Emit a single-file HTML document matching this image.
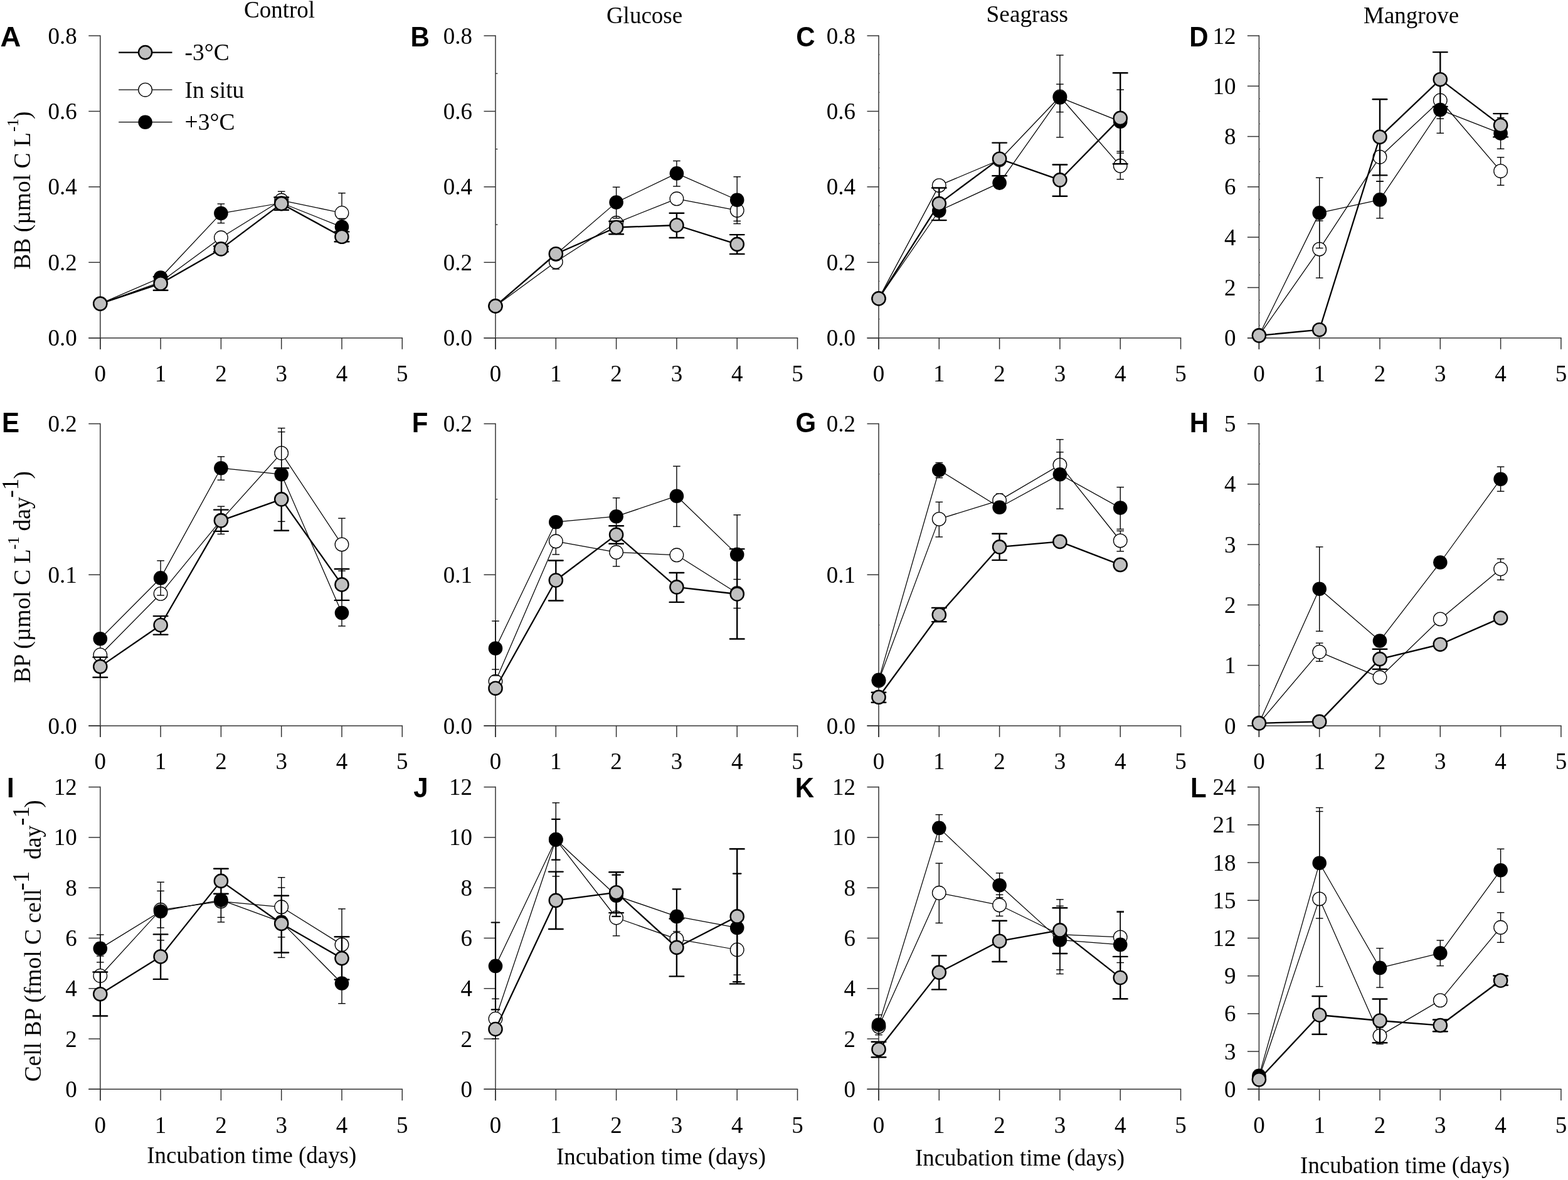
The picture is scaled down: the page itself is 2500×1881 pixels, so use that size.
<!DOCTYPE html>
<html><head><meta charset="utf-8"><title>Figure</title>
<style>html,body{margin:0;padding:0;background:#fff;}svg{display:block;}</style>
</head><body>
<svg width="2500" height="1881" viewBox="0 0 2500 1881">
<rect width="2500" height="1881" fill="#fff"/>
<line x1="159.8" y1="56.25" x2="159.8" y2="556.7" stroke="#333" stroke-width="1.5" stroke-linecap="butt"/>
<line x1="141.3" y1="538.7" x2="642" y2="538.7" stroke="#333" stroke-width="1.5" stroke-linecap="butt"/>
<line x1="141.3" y1="538.7" x2="159.8" y2="538.7" stroke="#333" stroke-width="1.5" stroke-linecap="butt"/>
<text x="122.8" y="551.3" font-size="37" text-anchor="end" font-family="'Liberation Serif','Times New Roman',serif" font-weight="normal">0.0</text>
<line x1="141.3" y1="418.28" x2="159.8" y2="418.28" stroke="#333" stroke-width="1.5" stroke-linecap="butt"/>
<text x="122.8" y="430.88" font-size="37" text-anchor="end" font-family="'Liberation Serif','Times New Roman',serif" font-weight="normal">0.2</text>
<line x1="141.3" y1="297.85" x2="159.8" y2="297.85" stroke="#333" stroke-width="1.5" stroke-linecap="butt"/>
<text x="122.8" y="310.45" font-size="37" text-anchor="end" font-family="'Liberation Serif','Times New Roman',serif" font-weight="normal">0.4</text>
<line x1="141.3" y1="177.43" x2="159.8" y2="177.43" stroke="#333" stroke-width="1.5" stroke-linecap="butt"/>
<text x="122.8" y="190.03" font-size="37" text-anchor="end" font-family="'Liberation Serif','Times New Roman',serif" font-weight="normal">0.6</text>
<line x1="141.3" y1="57" x2="159.8" y2="57" stroke="#333" stroke-width="1.5" stroke-linecap="butt"/>
<text x="122.8" y="69.6" font-size="37" text-anchor="end" font-family="'Liberation Serif','Times New Roman',serif" font-weight="normal">0.8</text>
<line x1="159.8" y1="538.7" x2="159.8" y2="556.7" stroke="#333" stroke-width="1.5" stroke-linecap="butt"/>
<text x="159.8" y="608.2" font-size="37" text-anchor="middle" font-family="'Liberation Serif','Times New Roman',serif" font-weight="normal">0</text>
<line x1="256.1" y1="538.7" x2="256.1" y2="556.7" stroke="#333" stroke-width="1.5" stroke-linecap="butt"/>
<text x="256.1" y="608.2" font-size="37" text-anchor="middle" font-family="'Liberation Serif','Times New Roman',serif" font-weight="normal">1</text>
<line x1="352.4" y1="538.7" x2="352.4" y2="556.7" stroke="#333" stroke-width="1.5" stroke-linecap="butt"/>
<text x="352.4" y="608.2" font-size="37" text-anchor="middle" font-family="'Liberation Serif','Times New Roman',serif" font-weight="normal">2</text>
<line x1="448.7" y1="538.7" x2="448.7" y2="556.7" stroke="#333" stroke-width="1.5" stroke-linecap="butt"/>
<text x="448.7" y="608.2" font-size="37" text-anchor="middle" font-family="'Liberation Serif','Times New Roman',serif" font-weight="normal">3</text>
<line x1="545" y1="538.7" x2="545" y2="556.7" stroke="#333" stroke-width="1.5" stroke-linecap="butt"/>
<text x="545" y="608.2" font-size="37" text-anchor="middle" font-family="'Liberation Serif','Times New Roman',serif" font-weight="normal">4</text>
<line x1="641.3" y1="538.7" x2="641.3" y2="556.7" stroke="#333" stroke-width="1.5" stroke-linecap="butt"/>
<text x="641.3" y="608.2" font-size="37" text-anchor="middle" font-family="'Liberation Serif','Times New Roman',serif" font-weight="normal">5</text>
<line x1="790" y1="56.25" x2="790" y2="556.7" stroke="#333" stroke-width="1.5" stroke-linecap="butt"/>
<line x1="771.5" y1="538.7" x2="1272.2" y2="538.7" stroke="#333" stroke-width="1.5" stroke-linecap="butt"/>
<line x1="771.5" y1="538.7" x2="790" y2="538.7" stroke="#333" stroke-width="1.5" stroke-linecap="butt"/>
<text x="753" y="551.3" font-size="37" text-anchor="end" font-family="'Liberation Serif','Times New Roman',serif" font-weight="normal">0.0</text>
<line x1="771.5" y1="418.28" x2="790" y2="418.28" stroke="#333" stroke-width="1.5" stroke-linecap="butt"/>
<text x="753" y="430.88" font-size="37" text-anchor="end" font-family="'Liberation Serif','Times New Roman',serif" font-weight="normal">0.2</text>
<line x1="771.5" y1="297.85" x2="790" y2="297.85" stroke="#333" stroke-width="1.5" stroke-linecap="butt"/>
<text x="753" y="310.45" font-size="37" text-anchor="end" font-family="'Liberation Serif','Times New Roman',serif" font-weight="normal">0.4</text>
<line x1="771.5" y1="177.43" x2="790" y2="177.43" stroke="#333" stroke-width="1.5" stroke-linecap="butt"/>
<text x="753" y="190.03" font-size="37" text-anchor="end" font-family="'Liberation Serif','Times New Roman',serif" font-weight="normal">0.6</text>
<line x1="771.5" y1="57" x2="790" y2="57" stroke="#333" stroke-width="1.5" stroke-linecap="butt"/>
<text x="753" y="69.6" font-size="37" text-anchor="end" font-family="'Liberation Serif','Times New Roman',serif" font-weight="normal">0.8</text>
<line x1="790" y1="478.49" x2="793.4" y2="478.49" stroke="#333" stroke-width="1.4" stroke-linecap="butt"/>
<line x1="790" y1="358.06" x2="793.4" y2="358.06" stroke="#333" stroke-width="1.4" stroke-linecap="butt"/>
<line x1="790" y1="237.64" x2="793.4" y2="237.64" stroke="#333" stroke-width="1.4" stroke-linecap="butt"/>
<line x1="790" y1="117.21" x2="793.4" y2="117.21" stroke="#333" stroke-width="1.4" stroke-linecap="butt"/>
<line x1="790" y1="538.7" x2="790" y2="556.7" stroke="#333" stroke-width="1.5" stroke-linecap="butt"/>
<text x="790" y="608.2" font-size="37" text-anchor="middle" font-family="'Liberation Serif','Times New Roman',serif" font-weight="normal">0</text>
<line x1="886.3" y1="538.7" x2="886.3" y2="556.7" stroke="#333" stroke-width="1.5" stroke-linecap="butt"/>
<text x="886.3" y="608.2" font-size="37" text-anchor="middle" font-family="'Liberation Serif','Times New Roman',serif" font-weight="normal">1</text>
<line x1="982.6" y1="538.7" x2="982.6" y2="556.7" stroke="#333" stroke-width="1.5" stroke-linecap="butt"/>
<text x="982.6" y="608.2" font-size="37" text-anchor="middle" font-family="'Liberation Serif','Times New Roman',serif" font-weight="normal">2</text>
<line x1="1078.9" y1="538.7" x2="1078.9" y2="556.7" stroke="#333" stroke-width="1.5" stroke-linecap="butt"/>
<text x="1078.9" y="608.2" font-size="37" text-anchor="middle" font-family="'Liberation Serif','Times New Roman',serif" font-weight="normal">3</text>
<line x1="1175.2" y1="538.7" x2="1175.2" y2="556.7" stroke="#333" stroke-width="1.5" stroke-linecap="butt"/>
<text x="1175.2" y="608.2" font-size="37" text-anchor="middle" font-family="'Liberation Serif','Times New Roman',serif" font-weight="normal">4</text>
<line x1="1271.5" y1="538.7" x2="1271.5" y2="556.7" stroke="#333" stroke-width="1.5" stroke-linecap="butt"/>
<text x="1271.5" y="608.2" font-size="37" text-anchor="middle" font-family="'Liberation Serif','Times New Roman',serif" font-weight="normal">5</text>
<line x1="1401" y1="56.25" x2="1401" y2="556.7" stroke="#333" stroke-width="1.5" stroke-linecap="butt"/>
<line x1="1382.5" y1="538.7" x2="1883.2" y2="538.7" stroke="#333" stroke-width="1.5" stroke-linecap="butt"/>
<line x1="1382.5" y1="538.7" x2="1401" y2="538.7" stroke="#333" stroke-width="1.5" stroke-linecap="butt"/>
<text x="1364" y="551.3" font-size="37" text-anchor="end" font-family="'Liberation Serif','Times New Roman',serif" font-weight="normal">0.0</text>
<line x1="1382.5" y1="418.28" x2="1401" y2="418.28" stroke="#333" stroke-width="1.5" stroke-linecap="butt"/>
<text x="1364" y="430.88" font-size="37" text-anchor="end" font-family="'Liberation Serif','Times New Roman',serif" font-weight="normal">0.2</text>
<line x1="1382.5" y1="297.85" x2="1401" y2="297.85" stroke="#333" stroke-width="1.5" stroke-linecap="butt"/>
<text x="1364" y="310.45" font-size="37" text-anchor="end" font-family="'Liberation Serif','Times New Roman',serif" font-weight="normal">0.4</text>
<line x1="1382.5" y1="177.43" x2="1401" y2="177.43" stroke="#333" stroke-width="1.5" stroke-linecap="butt"/>
<text x="1364" y="190.03" font-size="37" text-anchor="end" font-family="'Liberation Serif','Times New Roman',serif" font-weight="normal">0.6</text>
<line x1="1382.5" y1="57" x2="1401" y2="57" stroke="#333" stroke-width="1.5" stroke-linecap="butt"/>
<text x="1364" y="69.6" font-size="37" text-anchor="end" font-family="'Liberation Serif','Times New Roman',serif" font-weight="normal">0.8</text>
<line x1="1400.8" y1="508.59" x2="1402.6" y2="508.59" stroke="#555" stroke-width="1.2" stroke-linecap="butt"/>
<line x1="1400.8" y1="478.49" x2="1402.6" y2="478.49" stroke="#555" stroke-width="1.2" stroke-linecap="butt"/>
<line x1="1400.8" y1="448.38" x2="1402.6" y2="448.38" stroke="#555" stroke-width="1.2" stroke-linecap="butt"/>
<line x1="1400.8" y1="388.17" x2="1402.6" y2="388.17" stroke="#555" stroke-width="1.2" stroke-linecap="butt"/>
<line x1="1400.8" y1="358.06" x2="1402.6" y2="358.06" stroke="#555" stroke-width="1.2" stroke-linecap="butt"/>
<line x1="1400.8" y1="327.96" x2="1402.6" y2="327.96" stroke="#555" stroke-width="1.2" stroke-linecap="butt"/>
<line x1="1400.8" y1="267.74" x2="1402.6" y2="267.74" stroke="#555" stroke-width="1.2" stroke-linecap="butt"/>
<line x1="1400.8" y1="237.64" x2="1402.6" y2="237.64" stroke="#555" stroke-width="1.2" stroke-linecap="butt"/>
<line x1="1400.8" y1="207.53" x2="1402.6" y2="207.53" stroke="#555" stroke-width="1.2" stroke-linecap="butt"/>
<line x1="1400.8" y1="147.32" x2="1402.6" y2="147.32" stroke="#555" stroke-width="1.2" stroke-linecap="butt"/>
<line x1="1400.8" y1="117.21" x2="1402.6" y2="117.21" stroke="#555" stroke-width="1.2" stroke-linecap="butt"/>
<line x1="1400.8" y1="87.11" x2="1402.6" y2="87.11" stroke="#555" stroke-width="1.2" stroke-linecap="butt"/>
<line x1="1401" y1="538.7" x2="1401" y2="556.7" stroke="#333" stroke-width="1.5" stroke-linecap="butt"/>
<text x="1401" y="608.2" font-size="37" text-anchor="middle" font-family="'Liberation Serif','Times New Roman',serif" font-weight="normal">0</text>
<line x1="1497.3" y1="538.7" x2="1497.3" y2="556.7" stroke="#333" stroke-width="1.5" stroke-linecap="butt"/>
<text x="1497.3" y="608.2" font-size="37" text-anchor="middle" font-family="'Liberation Serif','Times New Roman',serif" font-weight="normal">1</text>
<line x1="1593.6" y1="538.7" x2="1593.6" y2="556.7" stroke="#333" stroke-width="1.5" stroke-linecap="butt"/>
<text x="1593.6" y="608.2" font-size="37" text-anchor="middle" font-family="'Liberation Serif','Times New Roman',serif" font-weight="normal">2</text>
<line x1="1689.9" y1="538.7" x2="1689.9" y2="556.7" stroke="#333" stroke-width="1.5" stroke-linecap="butt"/>
<text x="1689.9" y="608.2" font-size="37" text-anchor="middle" font-family="'Liberation Serif','Times New Roman',serif" font-weight="normal">3</text>
<line x1="1786.2" y1="538.7" x2="1786.2" y2="556.7" stroke="#333" stroke-width="1.5" stroke-linecap="butt"/>
<text x="1786.2" y="608.2" font-size="37" text-anchor="middle" font-family="'Liberation Serif','Times New Roman',serif" font-weight="normal">4</text>
<line x1="1882.5" y1="538.7" x2="1882.5" y2="556.7" stroke="#333" stroke-width="1.5" stroke-linecap="butt"/>
<text x="1882.5" y="608.2" font-size="37" text-anchor="middle" font-family="'Liberation Serif','Times New Roman',serif" font-weight="normal">5</text>
<line x1="2007.4" y1="56.25" x2="2007.4" y2="556.7" stroke="#333" stroke-width="1.5" stroke-linecap="butt"/>
<line x1="1988.9" y1="538.7" x2="2489.6" y2="538.7" stroke="#333" stroke-width="1.5" stroke-linecap="butt"/>
<line x1="1988.9" y1="538.7" x2="2007.4" y2="538.7" stroke="#333" stroke-width="1.5" stroke-linecap="butt"/>
<text x="1970.4" y="551.3" font-size="37" text-anchor="end" font-family="'Liberation Serif','Times New Roman',serif" font-weight="normal">0</text>
<line x1="1988.9" y1="458.42" x2="2007.4" y2="458.42" stroke="#333" stroke-width="1.5" stroke-linecap="butt"/>
<text x="1970.4" y="471.02" font-size="37" text-anchor="end" font-family="'Liberation Serif','Times New Roman',serif" font-weight="normal">2</text>
<line x1="1988.9" y1="378.13" x2="2007.4" y2="378.13" stroke="#333" stroke-width="1.5" stroke-linecap="butt"/>
<text x="1970.4" y="390.73" font-size="37" text-anchor="end" font-family="'Liberation Serif','Times New Roman',serif" font-weight="normal">4</text>
<line x1="1988.9" y1="297.85" x2="2007.4" y2="297.85" stroke="#333" stroke-width="1.5" stroke-linecap="butt"/>
<text x="1970.4" y="310.45" font-size="37" text-anchor="end" font-family="'Liberation Serif','Times New Roman',serif" font-weight="normal">6</text>
<line x1="1988.9" y1="217.57" x2="2007.4" y2="217.57" stroke="#333" stroke-width="1.5" stroke-linecap="butt"/>
<text x="1970.4" y="230.17" font-size="37" text-anchor="end" font-family="'Liberation Serif','Times New Roman',serif" font-weight="normal">8</text>
<line x1="1988.9" y1="137.28" x2="2007.4" y2="137.28" stroke="#333" stroke-width="1.5" stroke-linecap="butt"/>
<text x="1970.4" y="149.88" font-size="37" text-anchor="end" font-family="'Liberation Serif','Times New Roman',serif" font-weight="normal">10</text>
<line x1="1988.9" y1="57" x2="2007.4" y2="57" stroke="#333" stroke-width="1.5" stroke-linecap="butt"/>
<text x="1970.4" y="69.6" font-size="37" text-anchor="end" font-family="'Liberation Serif','Times New Roman',serif" font-weight="normal">12</text>
<line x1="2007.2" y1="518.63" x2="2009" y2="518.63" stroke="#555" stroke-width="1.2" stroke-linecap="butt"/>
<line x1="2007.2" y1="498.56" x2="2009" y2="498.56" stroke="#555" stroke-width="1.2" stroke-linecap="butt"/>
<line x1="2007.2" y1="478.49" x2="2009" y2="478.49" stroke="#555" stroke-width="1.2" stroke-linecap="butt"/>
<line x1="2007.2" y1="438.35" x2="2009" y2="438.35" stroke="#555" stroke-width="1.2" stroke-linecap="butt"/>
<line x1="2007.2" y1="418.28" x2="2009" y2="418.28" stroke="#555" stroke-width="1.2" stroke-linecap="butt"/>
<line x1="2007.2" y1="398.2" x2="2009" y2="398.2" stroke="#555" stroke-width="1.2" stroke-linecap="butt"/>
<line x1="2007.2" y1="358.06" x2="2009" y2="358.06" stroke="#555" stroke-width="1.2" stroke-linecap="butt"/>
<line x1="2007.2" y1="337.99" x2="2009" y2="337.99" stroke="#555" stroke-width="1.2" stroke-linecap="butt"/>
<line x1="2007.2" y1="317.92" x2="2009" y2="317.92" stroke="#555" stroke-width="1.2" stroke-linecap="butt"/>
<line x1="2007.2" y1="277.78" x2="2009" y2="277.78" stroke="#555" stroke-width="1.2" stroke-linecap="butt"/>
<line x1="2007.2" y1="257.71" x2="2009" y2="257.71" stroke="#555" stroke-width="1.2" stroke-linecap="butt"/>
<line x1="2007.2" y1="237.64" x2="2009" y2="237.64" stroke="#555" stroke-width="1.2" stroke-linecap="butt"/>
<line x1="2007.2" y1="197.5" x2="2009" y2="197.5" stroke="#555" stroke-width="1.2" stroke-linecap="butt"/>
<line x1="2007.2" y1="177.42" x2="2009" y2="177.42" stroke="#555" stroke-width="1.2" stroke-linecap="butt"/>
<line x1="2007.2" y1="157.35" x2="2009" y2="157.35" stroke="#555" stroke-width="1.2" stroke-linecap="butt"/>
<line x1="2007.2" y1="117.21" x2="2009" y2="117.21" stroke="#555" stroke-width="1.2" stroke-linecap="butt"/>
<line x1="2007.2" y1="97.14" x2="2009" y2="97.14" stroke="#555" stroke-width="1.2" stroke-linecap="butt"/>
<line x1="2007.2" y1="77.07" x2="2009" y2="77.07" stroke="#555" stroke-width="1.2" stroke-linecap="butt"/>
<line x1="2007.4" y1="538.7" x2="2007.4" y2="556.7" stroke="#333" stroke-width="1.5" stroke-linecap="butt"/>
<text x="2007.4" y="608.2" font-size="37" text-anchor="middle" font-family="'Liberation Serif','Times New Roman',serif" font-weight="normal">0</text>
<line x1="2103.7" y1="538.7" x2="2103.7" y2="556.7" stroke="#333" stroke-width="1.5" stroke-linecap="butt"/>
<text x="2103.7" y="608.2" font-size="37" text-anchor="middle" font-family="'Liberation Serif','Times New Roman',serif" font-weight="normal">1</text>
<line x1="2200" y1="538.7" x2="2200" y2="556.7" stroke="#333" stroke-width="1.5" stroke-linecap="butt"/>
<text x="2200" y="608.2" font-size="37" text-anchor="middle" font-family="'Liberation Serif','Times New Roman',serif" font-weight="normal">2</text>
<line x1="2296.3" y1="538.7" x2="2296.3" y2="556.7" stroke="#333" stroke-width="1.5" stroke-linecap="butt"/>
<text x="2296.3" y="608.2" font-size="37" text-anchor="middle" font-family="'Liberation Serif','Times New Roman',serif" font-weight="normal">3</text>
<line x1="2392.6" y1="538.7" x2="2392.6" y2="556.7" stroke="#333" stroke-width="1.5" stroke-linecap="butt"/>
<text x="2392.6" y="608.2" font-size="37" text-anchor="middle" font-family="'Liberation Serif','Times New Roman',serif" font-weight="normal">4</text>
<line x1="2488.9" y1="538.7" x2="2488.9" y2="556.7" stroke="#333" stroke-width="1.5" stroke-linecap="butt"/>
<text x="2488.9" y="608.2" font-size="37" text-anchor="middle" font-family="'Liberation Serif','Times New Roman',serif" font-weight="normal">5</text>
<line x1="159.8" y1="674.75" x2="159.8" y2="1174.9" stroke="#333" stroke-width="1.5" stroke-linecap="butt"/>
<line x1="141.3" y1="1156.9" x2="642" y2="1156.9" stroke="#333" stroke-width="1.5" stroke-linecap="butt"/>
<line x1="141.3" y1="1156.9" x2="159.8" y2="1156.9" stroke="#333" stroke-width="1.5" stroke-linecap="butt"/>
<text x="122.8" y="1169.5" font-size="37" text-anchor="end" font-family="'Liberation Serif','Times New Roman',serif" font-weight="normal">0.0</text>
<line x1="141.3" y1="916.2" x2="159.8" y2="916.2" stroke="#333" stroke-width="1.5" stroke-linecap="butt"/>
<text x="122.8" y="928.8" font-size="37" text-anchor="end" font-family="'Liberation Serif','Times New Roman',serif" font-weight="normal">0.1</text>
<line x1="141.3" y1="675.5" x2="159.8" y2="675.5" stroke="#333" stroke-width="1.5" stroke-linecap="butt"/>
<text x="122.8" y="688.1" font-size="37" text-anchor="end" font-family="'Liberation Serif','Times New Roman',serif" font-weight="normal">0.2</text>
<line x1="159.8" y1="1156.9" x2="159.8" y2="1174.9" stroke="#333" stroke-width="1.5" stroke-linecap="butt"/>
<text x="159.8" y="1226.4" font-size="37" text-anchor="middle" font-family="'Liberation Serif','Times New Roman',serif" font-weight="normal">0</text>
<line x1="256.1" y1="1156.9" x2="256.1" y2="1174.9" stroke="#333" stroke-width="1.5" stroke-linecap="butt"/>
<text x="256.1" y="1226.4" font-size="37" text-anchor="middle" font-family="'Liberation Serif','Times New Roman',serif" font-weight="normal">1</text>
<line x1="352.4" y1="1156.9" x2="352.4" y2="1174.9" stroke="#333" stroke-width="1.5" stroke-linecap="butt"/>
<text x="352.4" y="1226.4" font-size="37" text-anchor="middle" font-family="'Liberation Serif','Times New Roman',serif" font-weight="normal">2</text>
<line x1="448.7" y1="1156.9" x2="448.7" y2="1174.9" stroke="#333" stroke-width="1.5" stroke-linecap="butt"/>
<text x="448.7" y="1226.4" font-size="37" text-anchor="middle" font-family="'Liberation Serif','Times New Roman',serif" font-weight="normal">3</text>
<line x1="545" y1="1156.9" x2="545" y2="1174.9" stroke="#333" stroke-width="1.5" stroke-linecap="butt"/>
<text x="545" y="1226.4" font-size="37" text-anchor="middle" font-family="'Liberation Serif','Times New Roman',serif" font-weight="normal">4</text>
<line x1="641.3" y1="1156.9" x2="641.3" y2="1174.9" stroke="#333" stroke-width="1.5" stroke-linecap="butt"/>
<text x="641.3" y="1226.4" font-size="37" text-anchor="middle" font-family="'Liberation Serif','Times New Roman',serif" font-weight="normal">5</text>
<line x1="790" y1="674.75" x2="790" y2="1174.9" stroke="#333" stroke-width="1.5" stroke-linecap="butt"/>
<line x1="771.5" y1="1156.9" x2="1272.2" y2="1156.9" stroke="#333" stroke-width="1.5" stroke-linecap="butt"/>
<line x1="771.5" y1="1156.9" x2="790" y2="1156.9" stroke="#333" stroke-width="1.5" stroke-linecap="butt"/>
<text x="753" y="1169.5" font-size="37" text-anchor="end" font-family="'Liberation Serif','Times New Roman',serif" font-weight="normal">0.0</text>
<line x1="771.5" y1="916.2" x2="790" y2="916.2" stroke="#333" stroke-width="1.5" stroke-linecap="butt"/>
<text x="753" y="928.8" font-size="37" text-anchor="end" font-family="'Liberation Serif','Times New Roman',serif" font-weight="normal">0.1</text>
<line x1="771.5" y1="675.5" x2="790" y2="675.5" stroke="#333" stroke-width="1.5" stroke-linecap="butt"/>
<text x="753" y="688.1" font-size="37" text-anchor="end" font-family="'Liberation Serif','Times New Roman',serif" font-weight="normal">0.2</text>
<line x1="790" y1="1036.55" x2="793.4" y2="1036.55" stroke="#333" stroke-width="1.4" stroke-linecap="butt"/>
<line x1="790" y1="795.85" x2="793.4" y2="795.85" stroke="#333" stroke-width="1.4" stroke-linecap="butt"/>
<line x1="790" y1="1156.9" x2="790" y2="1174.9" stroke="#333" stroke-width="1.5" stroke-linecap="butt"/>
<text x="790" y="1226.4" font-size="37" text-anchor="middle" font-family="'Liberation Serif','Times New Roman',serif" font-weight="normal">0</text>
<line x1="886.3" y1="1156.9" x2="886.3" y2="1174.9" stroke="#333" stroke-width="1.5" stroke-linecap="butt"/>
<text x="886.3" y="1226.4" font-size="37" text-anchor="middle" font-family="'Liberation Serif','Times New Roman',serif" font-weight="normal">1</text>
<line x1="982.6" y1="1156.9" x2="982.6" y2="1174.9" stroke="#333" stroke-width="1.5" stroke-linecap="butt"/>
<text x="982.6" y="1226.4" font-size="37" text-anchor="middle" font-family="'Liberation Serif','Times New Roman',serif" font-weight="normal">2</text>
<line x1="1078.9" y1="1156.9" x2="1078.9" y2="1174.9" stroke="#333" stroke-width="1.5" stroke-linecap="butt"/>
<text x="1078.9" y="1226.4" font-size="37" text-anchor="middle" font-family="'Liberation Serif','Times New Roman',serif" font-weight="normal">3</text>
<line x1="1175.2" y1="1156.9" x2="1175.2" y2="1174.9" stroke="#333" stroke-width="1.5" stroke-linecap="butt"/>
<text x="1175.2" y="1226.4" font-size="37" text-anchor="middle" font-family="'Liberation Serif','Times New Roman',serif" font-weight="normal">4</text>
<line x1="1271.5" y1="1156.9" x2="1271.5" y2="1174.9" stroke="#333" stroke-width="1.5" stroke-linecap="butt"/>
<text x="1271.5" y="1226.4" font-size="37" text-anchor="middle" font-family="'Liberation Serif','Times New Roman',serif" font-weight="normal">5</text>
<line x1="1401" y1="674.75" x2="1401" y2="1174.9" stroke="#333" stroke-width="1.5" stroke-linecap="butt"/>
<line x1="1382.5" y1="1156.9" x2="1883.2" y2="1156.9" stroke="#333" stroke-width="1.5" stroke-linecap="butt"/>
<line x1="1382.5" y1="1156.9" x2="1401" y2="1156.9" stroke="#333" stroke-width="1.5" stroke-linecap="butt"/>
<text x="1364" y="1169.5" font-size="37" text-anchor="end" font-family="'Liberation Serif','Times New Roman',serif" font-weight="normal">0.0</text>
<line x1="1382.5" y1="916.2" x2="1401" y2="916.2" stroke="#333" stroke-width="1.5" stroke-linecap="butt"/>
<text x="1364" y="928.8" font-size="37" text-anchor="end" font-family="'Liberation Serif','Times New Roman',serif" font-weight="normal">0.1</text>
<line x1="1382.5" y1="675.5" x2="1401" y2="675.5" stroke="#333" stroke-width="1.5" stroke-linecap="butt"/>
<text x="1364" y="688.1" font-size="37" text-anchor="end" font-family="'Liberation Serif','Times New Roman',serif" font-weight="normal">0.2</text>
<line x1="1400.8" y1="1076.67" x2="1402.6" y2="1076.67" stroke="#555" stroke-width="1.2" stroke-linecap="butt"/>
<line x1="1400.8" y1="996.43" x2="1402.6" y2="996.43" stroke="#555" stroke-width="1.2" stroke-linecap="butt"/>
<line x1="1400.8" y1="835.97" x2="1402.6" y2="835.97" stroke="#555" stroke-width="1.2" stroke-linecap="butt"/>
<line x1="1400.8" y1="755.73" x2="1402.6" y2="755.73" stroke="#555" stroke-width="1.2" stroke-linecap="butt"/>
<line x1="1401" y1="1156.9" x2="1401" y2="1174.9" stroke="#333" stroke-width="1.5" stroke-linecap="butt"/>
<text x="1401" y="1226.4" font-size="37" text-anchor="middle" font-family="'Liberation Serif','Times New Roman',serif" font-weight="normal">0</text>
<line x1="1497.3" y1="1156.9" x2="1497.3" y2="1174.9" stroke="#333" stroke-width="1.5" stroke-linecap="butt"/>
<text x="1497.3" y="1226.4" font-size="37" text-anchor="middle" font-family="'Liberation Serif','Times New Roman',serif" font-weight="normal">1</text>
<line x1="1593.6" y1="1156.9" x2="1593.6" y2="1174.9" stroke="#333" stroke-width="1.5" stroke-linecap="butt"/>
<text x="1593.6" y="1226.4" font-size="37" text-anchor="middle" font-family="'Liberation Serif','Times New Roman',serif" font-weight="normal">2</text>
<line x1="1689.9" y1="1156.9" x2="1689.9" y2="1174.9" stroke="#333" stroke-width="1.5" stroke-linecap="butt"/>
<text x="1689.9" y="1226.4" font-size="37" text-anchor="middle" font-family="'Liberation Serif','Times New Roman',serif" font-weight="normal">3</text>
<line x1="1786.2" y1="1156.9" x2="1786.2" y2="1174.9" stroke="#333" stroke-width="1.5" stroke-linecap="butt"/>
<text x="1786.2" y="1226.4" font-size="37" text-anchor="middle" font-family="'Liberation Serif','Times New Roman',serif" font-weight="normal">4</text>
<line x1="1882.5" y1="1156.9" x2="1882.5" y2="1174.9" stroke="#333" stroke-width="1.5" stroke-linecap="butt"/>
<text x="1882.5" y="1226.4" font-size="37" text-anchor="middle" font-family="'Liberation Serif','Times New Roman',serif" font-weight="normal">5</text>
<line x1="2007.4" y1="674.75" x2="2007.4" y2="1174.9" stroke="#333" stroke-width="1.5" stroke-linecap="butt"/>
<line x1="1988.9" y1="1156.9" x2="2489.6" y2="1156.9" stroke="#333" stroke-width="1.5" stroke-linecap="butt"/>
<line x1="1988.9" y1="1156.9" x2="2007.4" y2="1156.9" stroke="#333" stroke-width="1.5" stroke-linecap="butt"/>
<text x="1970.4" y="1169.5" font-size="37" text-anchor="end" font-family="'Liberation Serif','Times New Roman',serif" font-weight="normal">0</text>
<line x1="1988.9" y1="1060.62" x2="2007.4" y2="1060.62" stroke="#333" stroke-width="1.5" stroke-linecap="butt"/>
<text x="1970.4" y="1073.22" font-size="37" text-anchor="end" font-family="'Liberation Serif','Times New Roman',serif" font-weight="normal">1</text>
<line x1="1988.9" y1="964.34" x2="2007.4" y2="964.34" stroke="#333" stroke-width="1.5" stroke-linecap="butt"/>
<text x="1970.4" y="976.94" font-size="37" text-anchor="end" font-family="'Liberation Serif','Times New Roman',serif" font-weight="normal">2</text>
<line x1="1988.9" y1="868.06" x2="2007.4" y2="868.06" stroke="#333" stroke-width="1.5" stroke-linecap="butt"/>
<text x="1970.4" y="880.66" font-size="37" text-anchor="end" font-family="'Liberation Serif','Times New Roman',serif" font-weight="normal">3</text>
<line x1="1988.9" y1="771.78" x2="2007.4" y2="771.78" stroke="#333" stroke-width="1.5" stroke-linecap="butt"/>
<text x="1970.4" y="784.38" font-size="37" text-anchor="end" font-family="'Liberation Serif','Times New Roman',serif" font-weight="normal">4</text>
<line x1="1988.9" y1="675.5" x2="2007.4" y2="675.5" stroke="#333" stroke-width="1.5" stroke-linecap="butt"/>
<text x="1970.4" y="688.1" font-size="37" text-anchor="end" font-family="'Liberation Serif','Times New Roman',serif" font-weight="normal">5</text>
<line x1="2007.2" y1="1124.81" x2="2009" y2="1124.81" stroke="#555" stroke-width="1.2" stroke-linecap="butt"/>
<line x1="2007.2" y1="1092.71" x2="2009" y2="1092.71" stroke="#555" stroke-width="1.2" stroke-linecap="butt"/>
<line x1="2007.2" y1="1028.53" x2="2009" y2="1028.53" stroke="#555" stroke-width="1.2" stroke-linecap="butt"/>
<line x1="2007.2" y1="996.43" x2="2009" y2="996.43" stroke="#555" stroke-width="1.2" stroke-linecap="butt"/>
<line x1="2007.2" y1="932.25" x2="2009" y2="932.25" stroke="#555" stroke-width="1.2" stroke-linecap="butt"/>
<line x1="2007.2" y1="900.15" x2="2009" y2="900.15" stroke="#555" stroke-width="1.2" stroke-linecap="butt"/>
<line x1="2007.2" y1="835.97" x2="2009" y2="835.97" stroke="#555" stroke-width="1.2" stroke-linecap="butt"/>
<line x1="2007.2" y1="803.87" x2="2009" y2="803.87" stroke="#555" stroke-width="1.2" stroke-linecap="butt"/>
<line x1="2007.2" y1="739.69" x2="2009" y2="739.69" stroke="#555" stroke-width="1.2" stroke-linecap="butt"/>
<line x1="2007.2" y1="707.59" x2="2009" y2="707.59" stroke="#555" stroke-width="1.2" stroke-linecap="butt"/>
<line x1="2007.4" y1="1156.9" x2="2007.4" y2="1174.9" stroke="#333" stroke-width="1.5" stroke-linecap="butt"/>
<text x="2007.4" y="1226.4" font-size="37" text-anchor="middle" font-family="'Liberation Serif','Times New Roman',serif" font-weight="normal">0</text>
<line x1="2103.7" y1="1156.9" x2="2103.7" y2="1174.9" stroke="#333" stroke-width="1.5" stroke-linecap="butt"/>
<text x="2103.7" y="1226.4" font-size="37" text-anchor="middle" font-family="'Liberation Serif','Times New Roman',serif" font-weight="normal">1</text>
<line x1="2200" y1="1156.9" x2="2200" y2="1174.9" stroke="#333" stroke-width="1.5" stroke-linecap="butt"/>
<text x="2200" y="1226.4" font-size="37" text-anchor="middle" font-family="'Liberation Serif','Times New Roman',serif" font-weight="normal">2</text>
<line x1="2296.3" y1="1156.9" x2="2296.3" y2="1174.9" stroke="#333" stroke-width="1.5" stroke-linecap="butt"/>
<text x="2296.3" y="1226.4" font-size="37" text-anchor="middle" font-family="'Liberation Serif','Times New Roman',serif" font-weight="normal">3</text>
<line x1="2392.6" y1="1156.9" x2="2392.6" y2="1174.9" stroke="#333" stroke-width="1.5" stroke-linecap="butt"/>
<text x="2392.6" y="1226.4" font-size="37" text-anchor="middle" font-family="'Liberation Serif','Times New Roman',serif" font-weight="normal">4</text>
<line x1="2488.9" y1="1156.9" x2="2488.9" y2="1174.9" stroke="#333" stroke-width="1.5" stroke-linecap="butt"/>
<text x="2488.9" y="1226.4" font-size="37" text-anchor="middle" font-family="'Liberation Serif','Times New Roman',serif" font-weight="normal">5</text>
<line x1="159.8" y1="1253.85" x2="159.8" y2="1754.3" stroke="#333" stroke-width="1.5" stroke-linecap="butt"/>
<line x1="141.3" y1="1736.3" x2="642" y2="1736.3" stroke="#333" stroke-width="1.5" stroke-linecap="butt"/>
<line x1="141.3" y1="1736.3" x2="159.8" y2="1736.3" stroke="#333" stroke-width="1.5" stroke-linecap="butt"/>
<text x="122.8" y="1748.9" font-size="37" text-anchor="end" font-family="'Liberation Serif','Times New Roman',serif" font-weight="normal">0</text>
<line x1="141.3" y1="1656.02" x2="159.8" y2="1656.02" stroke="#333" stroke-width="1.5" stroke-linecap="butt"/>
<text x="122.8" y="1668.62" font-size="37" text-anchor="end" font-family="'Liberation Serif','Times New Roman',serif" font-weight="normal">2</text>
<line x1="141.3" y1="1575.73" x2="159.8" y2="1575.73" stroke="#333" stroke-width="1.5" stroke-linecap="butt"/>
<text x="122.8" y="1588.33" font-size="37" text-anchor="end" font-family="'Liberation Serif','Times New Roman',serif" font-weight="normal">4</text>
<line x1="141.3" y1="1495.45" x2="159.8" y2="1495.45" stroke="#333" stroke-width="1.5" stroke-linecap="butt"/>
<text x="122.8" y="1508.05" font-size="37" text-anchor="end" font-family="'Liberation Serif','Times New Roman',serif" font-weight="normal">6</text>
<line x1="141.3" y1="1415.17" x2="159.8" y2="1415.17" stroke="#333" stroke-width="1.5" stroke-linecap="butt"/>
<text x="122.8" y="1427.77" font-size="37" text-anchor="end" font-family="'Liberation Serif','Times New Roman',serif" font-weight="normal">8</text>
<line x1="141.3" y1="1334.88" x2="159.8" y2="1334.88" stroke="#333" stroke-width="1.5" stroke-linecap="butt"/>
<text x="122.8" y="1347.48" font-size="37" text-anchor="end" font-family="'Liberation Serif','Times New Roman',serif" font-weight="normal">10</text>
<line x1="141.3" y1="1254.6" x2="159.8" y2="1254.6" stroke="#333" stroke-width="1.5" stroke-linecap="butt"/>
<text x="122.8" y="1267.2" font-size="37" text-anchor="end" font-family="'Liberation Serif','Times New Roman',serif" font-weight="normal">12</text>
<line x1="159.8" y1="1736.3" x2="159.8" y2="1754.3" stroke="#333" stroke-width="1.5" stroke-linecap="butt"/>
<text x="159.8" y="1805.8" font-size="37" text-anchor="middle" font-family="'Liberation Serif','Times New Roman',serif" font-weight="normal">0</text>
<line x1="256.1" y1="1736.3" x2="256.1" y2="1754.3" stroke="#333" stroke-width="1.5" stroke-linecap="butt"/>
<text x="256.1" y="1805.8" font-size="37" text-anchor="middle" font-family="'Liberation Serif','Times New Roman',serif" font-weight="normal">1</text>
<line x1="352.4" y1="1736.3" x2="352.4" y2="1754.3" stroke="#333" stroke-width="1.5" stroke-linecap="butt"/>
<text x="352.4" y="1805.8" font-size="37" text-anchor="middle" font-family="'Liberation Serif','Times New Roman',serif" font-weight="normal">2</text>
<line x1="448.7" y1="1736.3" x2="448.7" y2="1754.3" stroke="#333" stroke-width="1.5" stroke-linecap="butt"/>
<text x="448.7" y="1805.8" font-size="37" text-anchor="middle" font-family="'Liberation Serif','Times New Roman',serif" font-weight="normal">3</text>
<line x1="545" y1="1736.3" x2="545" y2="1754.3" stroke="#333" stroke-width="1.5" stroke-linecap="butt"/>
<text x="545" y="1805.8" font-size="37" text-anchor="middle" font-family="'Liberation Serif','Times New Roman',serif" font-weight="normal">4</text>
<line x1="641.3" y1="1736.3" x2="641.3" y2="1754.3" stroke="#333" stroke-width="1.5" stroke-linecap="butt"/>
<text x="641.3" y="1805.8" font-size="37" text-anchor="middle" font-family="'Liberation Serif','Times New Roman',serif" font-weight="normal">5</text>
<line x1="790" y1="1253.85" x2="790" y2="1754.3" stroke="#333" stroke-width="1.5" stroke-linecap="butt"/>
<line x1="771.5" y1="1736.3" x2="1272.2" y2="1736.3" stroke="#333" stroke-width="1.5" stroke-linecap="butt"/>
<line x1="771.5" y1="1736.3" x2="790" y2="1736.3" stroke="#333" stroke-width="1.5" stroke-linecap="butt"/>
<text x="753" y="1748.9" font-size="37" text-anchor="end" font-family="'Liberation Serif','Times New Roman',serif" font-weight="normal">0</text>
<line x1="771.5" y1="1656.02" x2="790" y2="1656.02" stroke="#333" stroke-width="1.5" stroke-linecap="butt"/>
<text x="753" y="1668.62" font-size="37" text-anchor="end" font-family="'Liberation Serif','Times New Roman',serif" font-weight="normal">2</text>
<line x1="771.5" y1="1575.73" x2="790" y2="1575.73" stroke="#333" stroke-width="1.5" stroke-linecap="butt"/>
<text x="753" y="1588.33" font-size="37" text-anchor="end" font-family="'Liberation Serif','Times New Roman',serif" font-weight="normal">4</text>
<line x1="771.5" y1="1495.45" x2="790" y2="1495.45" stroke="#333" stroke-width="1.5" stroke-linecap="butt"/>
<text x="753" y="1508.05" font-size="37" text-anchor="end" font-family="'Liberation Serif','Times New Roman',serif" font-weight="normal">6</text>
<line x1="771.5" y1="1415.17" x2="790" y2="1415.17" stroke="#333" stroke-width="1.5" stroke-linecap="butt"/>
<text x="753" y="1427.77" font-size="37" text-anchor="end" font-family="'Liberation Serif','Times New Roman',serif" font-weight="normal">8</text>
<line x1="771.5" y1="1334.88" x2="790" y2="1334.88" stroke="#333" stroke-width="1.5" stroke-linecap="butt"/>
<text x="753" y="1347.48" font-size="37" text-anchor="end" font-family="'Liberation Serif','Times New Roman',serif" font-weight="normal">10</text>
<line x1="771.5" y1="1254.6" x2="790" y2="1254.6" stroke="#333" stroke-width="1.5" stroke-linecap="butt"/>
<text x="753" y="1267.2" font-size="37" text-anchor="end" font-family="'Liberation Serif','Times New Roman',serif" font-weight="normal">12</text>
<line x1="790" y1="1736.3" x2="790" y2="1754.3" stroke="#333" stroke-width="1.5" stroke-linecap="butt"/>
<text x="790" y="1805.8" font-size="37" text-anchor="middle" font-family="'Liberation Serif','Times New Roman',serif" font-weight="normal">0</text>
<line x1="886.3" y1="1736.3" x2="886.3" y2="1754.3" stroke="#333" stroke-width="1.5" stroke-linecap="butt"/>
<text x="886.3" y="1805.8" font-size="37" text-anchor="middle" font-family="'Liberation Serif','Times New Roman',serif" font-weight="normal">1</text>
<line x1="982.6" y1="1736.3" x2="982.6" y2="1754.3" stroke="#333" stroke-width="1.5" stroke-linecap="butt"/>
<text x="982.6" y="1805.8" font-size="37" text-anchor="middle" font-family="'Liberation Serif','Times New Roman',serif" font-weight="normal">2</text>
<line x1="1078.9" y1="1736.3" x2="1078.9" y2="1754.3" stroke="#333" stroke-width="1.5" stroke-linecap="butt"/>
<text x="1078.9" y="1805.8" font-size="37" text-anchor="middle" font-family="'Liberation Serif','Times New Roman',serif" font-weight="normal">3</text>
<line x1="1175.2" y1="1736.3" x2="1175.2" y2="1754.3" stroke="#333" stroke-width="1.5" stroke-linecap="butt"/>
<text x="1175.2" y="1805.8" font-size="37" text-anchor="middle" font-family="'Liberation Serif','Times New Roman',serif" font-weight="normal">4</text>
<line x1="1271.5" y1="1736.3" x2="1271.5" y2="1754.3" stroke="#333" stroke-width="1.5" stroke-linecap="butt"/>
<text x="1271.5" y="1805.8" font-size="37" text-anchor="middle" font-family="'Liberation Serif','Times New Roman',serif" font-weight="normal">5</text>
<line x1="1401" y1="1253.85" x2="1401" y2="1754.3" stroke="#333" stroke-width="1.5" stroke-linecap="butt"/>
<line x1="1382.5" y1="1736.3" x2="1883.2" y2="1736.3" stroke="#333" stroke-width="1.5" stroke-linecap="butt"/>
<line x1="1382.5" y1="1736.3" x2="1401" y2="1736.3" stroke="#333" stroke-width="1.5" stroke-linecap="butt"/>
<text x="1364" y="1748.9" font-size="37" text-anchor="end" font-family="'Liberation Serif','Times New Roman',serif" font-weight="normal">0</text>
<line x1="1382.5" y1="1656.02" x2="1401" y2="1656.02" stroke="#333" stroke-width="1.5" stroke-linecap="butt"/>
<text x="1364" y="1668.62" font-size="37" text-anchor="end" font-family="'Liberation Serif','Times New Roman',serif" font-weight="normal">2</text>
<line x1="1382.5" y1="1575.73" x2="1401" y2="1575.73" stroke="#333" stroke-width="1.5" stroke-linecap="butt"/>
<text x="1364" y="1588.33" font-size="37" text-anchor="end" font-family="'Liberation Serif','Times New Roman',serif" font-weight="normal">4</text>
<line x1="1382.5" y1="1495.45" x2="1401" y2="1495.45" stroke="#333" stroke-width="1.5" stroke-linecap="butt"/>
<text x="1364" y="1508.05" font-size="37" text-anchor="end" font-family="'Liberation Serif','Times New Roman',serif" font-weight="normal">6</text>
<line x1="1382.5" y1="1415.17" x2="1401" y2="1415.17" stroke="#333" stroke-width="1.5" stroke-linecap="butt"/>
<text x="1364" y="1427.77" font-size="37" text-anchor="end" font-family="'Liberation Serif','Times New Roman',serif" font-weight="normal">8</text>
<line x1="1382.5" y1="1334.88" x2="1401" y2="1334.88" stroke="#333" stroke-width="1.5" stroke-linecap="butt"/>
<text x="1364" y="1347.48" font-size="37" text-anchor="end" font-family="'Liberation Serif','Times New Roman',serif" font-weight="normal">10</text>
<line x1="1382.5" y1="1254.6" x2="1401" y2="1254.6" stroke="#333" stroke-width="1.5" stroke-linecap="butt"/>
<text x="1364" y="1267.2" font-size="37" text-anchor="end" font-family="'Liberation Serif','Times New Roman',serif" font-weight="normal">12</text>
<line x1="1401" y1="1736.3" x2="1401" y2="1754.3" stroke="#333" stroke-width="1.5" stroke-linecap="butt"/>
<text x="1401" y="1805.8" font-size="37" text-anchor="middle" font-family="'Liberation Serif','Times New Roman',serif" font-weight="normal">0</text>
<line x1="1497.3" y1="1736.3" x2="1497.3" y2="1754.3" stroke="#333" stroke-width="1.5" stroke-linecap="butt"/>
<text x="1497.3" y="1805.8" font-size="37" text-anchor="middle" font-family="'Liberation Serif','Times New Roman',serif" font-weight="normal">1</text>
<line x1="1593.6" y1="1736.3" x2="1593.6" y2="1754.3" stroke="#333" stroke-width="1.5" stroke-linecap="butt"/>
<text x="1593.6" y="1805.8" font-size="37" text-anchor="middle" font-family="'Liberation Serif','Times New Roman',serif" font-weight="normal">2</text>
<line x1="1689.9" y1="1736.3" x2="1689.9" y2="1754.3" stroke="#333" stroke-width="1.5" stroke-linecap="butt"/>
<text x="1689.9" y="1805.8" font-size="37" text-anchor="middle" font-family="'Liberation Serif','Times New Roman',serif" font-weight="normal">3</text>
<line x1="1786.2" y1="1736.3" x2="1786.2" y2="1754.3" stroke="#333" stroke-width="1.5" stroke-linecap="butt"/>
<text x="1786.2" y="1805.8" font-size="37" text-anchor="middle" font-family="'Liberation Serif','Times New Roman',serif" font-weight="normal">4</text>
<line x1="1882.5" y1="1736.3" x2="1882.5" y2="1754.3" stroke="#333" stroke-width="1.5" stroke-linecap="butt"/>
<text x="1882.5" y="1805.8" font-size="37" text-anchor="middle" font-family="'Liberation Serif','Times New Roman',serif" font-weight="normal">5</text>
<line x1="2007.4" y1="1253.85" x2="2007.4" y2="1754.3" stroke="#333" stroke-width="1.5" stroke-linecap="butt"/>
<line x1="1988.9" y1="1736.3" x2="2489.6" y2="1736.3" stroke="#333" stroke-width="1.5" stroke-linecap="butt"/>
<line x1="1988.9" y1="1736.3" x2="2007.4" y2="1736.3" stroke="#333" stroke-width="1.5" stroke-linecap="butt"/>
<text x="1970.4" y="1748.9" font-size="37" text-anchor="end" font-family="'Liberation Serif','Times New Roman',serif" font-weight="normal">0</text>
<line x1="1988.9" y1="1676.09" x2="2007.4" y2="1676.09" stroke="#333" stroke-width="1.5" stroke-linecap="butt"/>
<text x="1970.4" y="1688.69" font-size="37" text-anchor="end" font-family="'Liberation Serif','Times New Roman',serif" font-weight="normal">3</text>
<line x1="1988.9" y1="1615.88" x2="2007.4" y2="1615.88" stroke="#333" stroke-width="1.5" stroke-linecap="butt"/>
<text x="1970.4" y="1628.47" font-size="37" text-anchor="end" font-family="'Liberation Serif','Times New Roman',serif" font-weight="normal">6</text>
<line x1="1988.9" y1="1555.66" x2="2007.4" y2="1555.66" stroke="#333" stroke-width="1.5" stroke-linecap="butt"/>
<text x="1970.4" y="1568.26" font-size="37" text-anchor="end" font-family="'Liberation Serif','Times New Roman',serif" font-weight="normal">9</text>
<line x1="1988.9" y1="1495.45" x2="2007.4" y2="1495.45" stroke="#333" stroke-width="1.5" stroke-linecap="butt"/>
<text x="1970.4" y="1508.05" font-size="37" text-anchor="end" font-family="'Liberation Serif','Times New Roman',serif" font-weight="normal">12</text>
<line x1="1988.9" y1="1435.24" x2="2007.4" y2="1435.24" stroke="#333" stroke-width="1.5" stroke-linecap="butt"/>
<text x="1970.4" y="1447.84" font-size="37" text-anchor="end" font-family="'Liberation Serif','Times New Roman',serif" font-weight="normal">15</text>
<line x1="1988.9" y1="1375.02" x2="2007.4" y2="1375.02" stroke="#333" stroke-width="1.5" stroke-linecap="butt"/>
<text x="1970.4" y="1387.62" font-size="37" text-anchor="end" font-family="'Liberation Serif','Times New Roman',serif" font-weight="normal">18</text>
<line x1="1988.9" y1="1314.81" x2="2007.4" y2="1314.81" stroke="#333" stroke-width="1.5" stroke-linecap="butt"/>
<text x="1970.4" y="1327.41" font-size="37" text-anchor="end" font-family="'Liberation Serif','Times New Roman',serif" font-weight="normal">21</text>
<line x1="1988.9" y1="1254.6" x2="2007.4" y2="1254.6" stroke="#333" stroke-width="1.5" stroke-linecap="butt"/>
<text x="1970.4" y="1267.2" font-size="37" text-anchor="end" font-family="'Liberation Serif','Times New Roman',serif" font-weight="normal">24</text>
<line x1="2007.4" y1="1736.3" x2="2007.4" y2="1754.3" stroke="#333" stroke-width="1.5" stroke-linecap="butt"/>
<text x="2007.4" y="1805.8" font-size="37" text-anchor="middle" font-family="'Liberation Serif','Times New Roman',serif" font-weight="normal">0</text>
<line x1="2103.7" y1="1736.3" x2="2103.7" y2="1754.3" stroke="#333" stroke-width="1.5" stroke-linecap="butt"/>
<text x="2103.7" y="1805.8" font-size="37" text-anchor="middle" font-family="'Liberation Serif','Times New Roman',serif" font-weight="normal">1</text>
<line x1="2200" y1="1736.3" x2="2200" y2="1754.3" stroke="#333" stroke-width="1.5" stroke-linecap="butt"/>
<text x="2200" y="1805.8" font-size="37" text-anchor="middle" font-family="'Liberation Serif','Times New Roman',serif" font-weight="normal">2</text>
<line x1="2296.3" y1="1736.3" x2="2296.3" y2="1754.3" stroke="#333" stroke-width="1.5" stroke-linecap="butt"/>
<text x="2296.3" y="1805.8" font-size="37" text-anchor="middle" font-family="'Liberation Serif','Times New Roman',serif" font-weight="normal">3</text>
<line x1="2392.6" y1="1736.3" x2="2392.6" y2="1754.3" stroke="#333" stroke-width="1.5" stroke-linecap="butt"/>
<text x="2392.6" y="1805.8" font-size="37" text-anchor="middle" font-family="'Liberation Serif','Times New Roman',serif" font-weight="normal">4</text>
<line x1="2488.9" y1="1736.3" x2="2488.9" y2="1754.3" stroke="#333" stroke-width="1.5" stroke-linecap="butt"/>
<text x="2488.9" y="1805.8" font-size="37" text-anchor="middle" font-family="'Liberation Serif','Times New Roman',serif" font-weight="normal">5</text>
<path d="M159.8 484.1 L256.1 449.5 L352.4 378.8 L448.7 319.3 L545 339.5" fill="none" stroke="#000" stroke-width="1.25" stroke-linejoin="round"/>
<line x1="256.1" y1="449.5" x2="256.1" y2="443" stroke="#000" stroke-width="1.4" stroke-linecap="butt"/>
<line x1="250.3" y1="443" x2="261.9" y2="443" stroke="#000" stroke-width="1.4" stroke-linecap="butt"/>
<line x1="256.1" y1="449.5" x2="256.1" y2="456" stroke="#000" stroke-width="1.4" stroke-linecap="butt"/>
<line x1="250.3" y1="456" x2="261.9" y2="456" stroke="#000" stroke-width="1.4" stroke-linecap="butt"/>
<line x1="448.7" y1="319.3" x2="448.7" y2="305.2" stroke="#000" stroke-width="1.4" stroke-linecap="butt"/>
<line x1="442.9" y1="305.2" x2="454.5" y2="305.2" stroke="#000" stroke-width="1.4" stroke-linecap="butt"/>
<line x1="448.7" y1="319.3" x2="448.7" y2="333.4" stroke="#000" stroke-width="1.4" stroke-linecap="butt"/>
<line x1="442.9" y1="333.4" x2="454.5" y2="333.4" stroke="#000" stroke-width="1.4" stroke-linecap="butt"/>
<line x1="545" y1="339.5" x2="545" y2="307.8" stroke="#000" stroke-width="1.4" stroke-linecap="butt"/>
<line x1="539.2" y1="307.8" x2="550.8" y2="307.8" stroke="#000" stroke-width="1.4" stroke-linecap="butt"/>
<line x1="545" y1="339.5" x2="545" y2="371.2" stroke="#000" stroke-width="1.4" stroke-linecap="butt"/>
<line x1="539.2" y1="371.2" x2="550.8" y2="371.2" stroke="#000" stroke-width="1.4" stroke-linecap="butt"/>
<circle cx="159.8" cy="484.1" r="10.8" fill="#fff" stroke="#000" stroke-width="1.3"/>
<circle cx="256.1" cy="449.5" r="10.8" fill="#fff" stroke="#000" stroke-width="1.3"/>
<circle cx="352.4" cy="378.8" r="10.8" fill="#fff" stroke="#000" stroke-width="1.3"/>
<circle cx="448.7" cy="319.3" r="10.8" fill="#fff" stroke="#000" stroke-width="1.3"/>
<circle cx="545" cy="339.5" r="10.8" fill="#fff" stroke="#000" stroke-width="1.3"/>
<path d="M159.8 484.1 L256.1 442.5 L352.4 340.1 L448.7 323.5 L545 361.8" fill="none" stroke="#000" stroke-width="1.25" stroke-linejoin="round"/>
<line x1="352.4" y1="340.1" x2="352.4" y2="325" stroke="#000" stroke-width="1.4" stroke-linecap="butt"/>
<line x1="346.6" y1="325" x2="358.2" y2="325" stroke="#000" stroke-width="1.4" stroke-linecap="butt"/>
<line x1="352.4" y1="340.1" x2="352.4" y2="355.6" stroke="#000" stroke-width="1.4" stroke-linecap="butt"/>
<line x1="346.6" y1="355.6" x2="358.2" y2="355.6" stroke="#000" stroke-width="1.4" stroke-linecap="butt"/>
<line x1="545" y1="361.8" x2="545" y2="348.4" stroke="#000" stroke-width="1.4" stroke-linecap="butt"/>
<line x1="539.2" y1="348.4" x2="550.8" y2="348.4" stroke="#000" stroke-width="1.4" stroke-linecap="butt"/>
<line x1="545" y1="361.8" x2="545" y2="375.2" stroke="#000" stroke-width="1.4" stroke-linecap="butt"/>
<line x1="539.2" y1="375.2" x2="550.8" y2="375.2" stroke="#000" stroke-width="1.4" stroke-linecap="butt"/>
<circle cx="159.8" cy="484.1" r="11.3" fill="#000"/>
<circle cx="256.1" cy="442.5" r="11.3" fill="#000"/>
<circle cx="352.4" cy="340.1" r="11.3" fill="#000"/>
<circle cx="448.7" cy="323.5" r="11.3" fill="#000"/>
<circle cx="545" cy="361.8" r="11.3" fill="#000"/>
<path d="M159.8 484.1 L256.1 451.9 L352.4 396.9 L448.7 324.7 L545 377.3" fill="none" stroke="#000" stroke-width="2.3" stroke-linejoin="round"/>
<line x1="256.1" y1="451.9" x2="256.1" y2="441.1" stroke="#000" stroke-width="2.4" stroke-linecap="butt"/>
<line x1="244.8" y1="441.1" x2="267.4" y2="441.1" stroke="#000" stroke-width="2.4" stroke-linecap="round"/>
<line x1="256.1" y1="451.9" x2="256.1" y2="462.7" stroke="#000" stroke-width="2.4" stroke-linecap="butt"/>
<line x1="244.8" y1="462.7" x2="267.4" y2="462.7" stroke="#000" stroke-width="2.4" stroke-linecap="round"/>
<line x1="352.4" y1="396.9" x2="352.4" y2="392.5" stroke="#000" stroke-width="2.4" stroke-linecap="butt"/>
<line x1="341.1" y1="392.5" x2="363.7" y2="392.5" stroke="#000" stroke-width="2.4" stroke-linecap="round"/>
<line x1="352.4" y1="396.9" x2="352.4" y2="401.3" stroke="#000" stroke-width="2.4" stroke-linecap="butt"/>
<line x1="341.1" y1="401.3" x2="363.7" y2="401.3" stroke="#000" stroke-width="2.4" stroke-linecap="round"/>
<line x1="448.7" y1="324.7" x2="448.7" y2="314.5" stroke="#000" stroke-width="2.4" stroke-linecap="butt"/>
<line x1="437.4" y1="314.5" x2="460" y2="314.5" stroke="#000" stroke-width="2.4" stroke-linecap="round"/>
<line x1="448.7" y1="324.7" x2="448.7" y2="334.8" stroke="#000" stroke-width="2.4" stroke-linecap="butt"/>
<line x1="437.4" y1="334.8" x2="460" y2="334.8" stroke="#000" stroke-width="2.4" stroke-linecap="round"/>
<line x1="545" y1="377.3" x2="545" y2="369.4" stroke="#000" stroke-width="2.4" stroke-linecap="butt"/>
<line x1="533.7" y1="369.4" x2="556.3" y2="369.4" stroke="#000" stroke-width="2.4" stroke-linecap="round"/>
<line x1="545" y1="377.3" x2="545" y2="385.2" stroke="#000" stroke-width="2.4" stroke-linecap="butt"/>
<line x1="533.7" y1="385.2" x2="556.3" y2="385.2" stroke="#000" stroke-width="2.4" stroke-linecap="round"/>
<circle cx="159.8" cy="484.1" r="10.6" fill="#c0c0c0" stroke="#000" stroke-width="2.4"/>
<circle cx="256.1" cy="451.9" r="10.6" fill="#c0c0c0" stroke="#000" stroke-width="2.4"/>
<circle cx="352.4" cy="396.9" r="10.6" fill="#c0c0c0" stroke="#000" stroke-width="2.4"/>
<circle cx="448.7" cy="324.7" r="10.6" fill="#c0c0c0" stroke="#000" stroke-width="2.4"/>
<circle cx="545" cy="377.3" r="10.6" fill="#c0c0c0" stroke="#000" stroke-width="2.4"/>
<path d="M790 487.9 L886.3 417.3 L982.6 355.3 L1078.9 316.8 L1175.2 335.3" fill="none" stroke="#000" stroke-width="1.25" stroke-linejoin="round"/>
<line x1="886.3" y1="417.3" x2="886.3" y2="405.6" stroke="#000" stroke-width="1.4" stroke-linecap="butt"/>
<line x1="880.5" y1="405.6" x2="892.1" y2="405.6" stroke="#000" stroke-width="1.4" stroke-linecap="butt"/>
<line x1="886.3" y1="417.3" x2="886.3" y2="429" stroke="#000" stroke-width="1.4" stroke-linecap="butt"/>
<line x1="880.5" y1="429" x2="892.1" y2="429" stroke="#000" stroke-width="1.4" stroke-linecap="butt"/>
<line x1="1175.2" y1="335.3" x2="1175.2" y2="318" stroke="#000" stroke-width="1.4" stroke-linecap="butt"/>
<line x1="1169.4" y1="318" x2="1181" y2="318" stroke="#000" stroke-width="1.4" stroke-linecap="butt"/>
<line x1="1175.2" y1="335.3" x2="1175.2" y2="352.4" stroke="#000" stroke-width="1.4" stroke-linecap="butt"/>
<line x1="1169.4" y1="352.4" x2="1181" y2="352.4" stroke="#000" stroke-width="1.4" stroke-linecap="butt"/>
<circle cx="790" cy="487.9" r="10.8" fill="#fff" stroke="#000" stroke-width="1.3"/>
<circle cx="886.3" cy="417.3" r="10.8" fill="#fff" stroke="#000" stroke-width="1.3"/>
<circle cx="982.6" cy="355.3" r="10.8" fill="#fff" stroke="#000" stroke-width="1.3"/>
<circle cx="1078.9" cy="316.8" r="10.8" fill="#fff" stroke="#000" stroke-width="1.3"/>
<circle cx="1175.2" cy="335.3" r="10.8" fill="#fff" stroke="#000" stroke-width="1.3"/>
<path d="M790 487.9 L886.3 405.5 L982.6 322.6 L1078.9 276.4 L1175.2 318.7" fill="none" stroke="#000" stroke-width="1.25" stroke-linejoin="round"/>
<line x1="982.6" y1="322.6" x2="982.6" y2="298.3" stroke="#000" stroke-width="1.4" stroke-linecap="butt"/>
<line x1="976.8" y1="298.3" x2="988.4" y2="298.3" stroke="#000" stroke-width="1.4" stroke-linecap="butt"/>
<line x1="982.6" y1="322.6" x2="982.6" y2="347.9" stroke="#000" stroke-width="1.4" stroke-linecap="butt"/>
<line x1="976.8" y1="347.9" x2="988.4" y2="347.9" stroke="#000" stroke-width="1.4" stroke-linecap="butt"/>
<line x1="1078.9" y1="276.4" x2="1078.9" y2="256.5" stroke="#000" stroke-width="1.4" stroke-linecap="butt"/>
<line x1="1073.1" y1="256.5" x2="1084.7" y2="256.5" stroke="#000" stroke-width="1.4" stroke-linecap="butt"/>
<line x1="1078.9" y1="276.4" x2="1078.9" y2="297" stroke="#000" stroke-width="1.4" stroke-linecap="butt"/>
<line x1="1073.1" y1="297" x2="1084.7" y2="297" stroke="#000" stroke-width="1.4" stroke-linecap="butt"/>
<line x1="1175.2" y1="318.7" x2="1175.2" y2="281.8" stroke="#000" stroke-width="1.4" stroke-linecap="butt"/>
<line x1="1169.4" y1="281.8" x2="1181" y2="281.8" stroke="#000" stroke-width="1.4" stroke-linecap="butt"/>
<line x1="1175.2" y1="318.7" x2="1175.2" y2="356.6" stroke="#000" stroke-width="1.4" stroke-linecap="butt"/>
<line x1="1169.4" y1="356.6" x2="1181" y2="356.6" stroke="#000" stroke-width="1.4" stroke-linecap="butt"/>
<circle cx="790" cy="487.9" r="11.3" fill="#000"/>
<circle cx="886.3" cy="405.5" r="11.3" fill="#000"/>
<circle cx="982.6" cy="322.6" r="11.3" fill="#000"/>
<circle cx="1078.9" cy="276.4" r="11.3" fill="#000"/>
<circle cx="1175.2" cy="318.7" r="11.3" fill="#000"/>
<path d="M790 487.9 L886.3 404.7 L982.6 362.5 L1078.9 359 L1175.2 389.3" fill="none" stroke="#000" stroke-width="2.3" stroke-linejoin="round"/>
<line x1="982.6" y1="362.5" x2="982.6" y2="352.8" stroke="#000" stroke-width="2.4" stroke-linecap="butt"/>
<line x1="971.3" y1="352.8" x2="993.9" y2="352.8" stroke="#000" stroke-width="2.4" stroke-linecap="round"/>
<line x1="982.6" y1="362.5" x2="982.6" y2="373.2" stroke="#000" stroke-width="2.4" stroke-linecap="butt"/>
<line x1="971.3" y1="373.2" x2="993.9" y2="373.2" stroke="#000" stroke-width="2.4" stroke-linecap="round"/>
<line x1="1078.9" y1="359" x2="1078.9" y2="339.7" stroke="#000" stroke-width="2.4" stroke-linecap="butt"/>
<line x1="1067.6" y1="339.7" x2="1090.2" y2="339.7" stroke="#000" stroke-width="2.4" stroke-linecap="round"/>
<line x1="1078.9" y1="359" x2="1078.9" y2="379" stroke="#000" stroke-width="2.4" stroke-linecap="butt"/>
<line x1="1067.6" y1="379" x2="1090.2" y2="379" stroke="#000" stroke-width="2.4" stroke-linecap="round"/>
<line x1="1175.2" y1="389.3" x2="1175.2" y2="374.1" stroke="#000" stroke-width="2.4" stroke-linecap="butt"/>
<line x1="1163.9" y1="374.1" x2="1186.5" y2="374.1" stroke="#000" stroke-width="2.4" stroke-linecap="round"/>
<line x1="1175.2" y1="389.3" x2="1175.2" y2="404.9" stroke="#000" stroke-width="2.4" stroke-linecap="butt"/>
<line x1="1163.9" y1="404.9" x2="1186.5" y2="404.9" stroke="#000" stroke-width="2.4" stroke-linecap="round"/>
<circle cx="790" cy="487.9" r="10.6" fill="#c0c0c0" stroke="#000" stroke-width="2.4"/>
<circle cx="886.3" cy="404.7" r="10.6" fill="#c0c0c0" stroke="#000" stroke-width="2.4"/>
<circle cx="982.6" cy="362.5" r="10.6" fill="#c0c0c0" stroke="#000" stroke-width="2.4"/>
<circle cx="1078.9" cy="359" r="10.6" fill="#c0c0c0" stroke="#000" stroke-width="2.4"/>
<circle cx="1175.2" cy="389.3" r="10.6" fill="#c0c0c0" stroke="#000" stroke-width="2.4"/>
<path d="M1401 475.9 L1497.3 295.6 L1593.6 255 L1689.9 154 L1786.2 264.3" fill="none" stroke="#000" stroke-width="1.25" stroke-linejoin="round"/>
<line x1="1689.9" y1="154" x2="1689.9" y2="87.9" stroke="#000" stroke-width="1.4" stroke-linecap="butt"/>
<line x1="1684.1" y1="87.9" x2="1695.7" y2="87.9" stroke="#000" stroke-width="1.4" stroke-linecap="butt"/>
<line x1="1689.9" y1="154" x2="1689.9" y2="218.9" stroke="#000" stroke-width="1.4" stroke-linecap="butt"/>
<line x1="1684.1" y1="218.9" x2="1695.7" y2="218.9" stroke="#000" stroke-width="1.4" stroke-linecap="butt"/>
<line x1="1786.2" y1="264.3" x2="1786.2" y2="244" stroke="#000" stroke-width="1.4" stroke-linecap="butt"/>
<line x1="1780.4" y1="244" x2="1792" y2="244" stroke="#000" stroke-width="1.4" stroke-linecap="butt"/>
<line x1="1786.2" y1="264.3" x2="1786.2" y2="285.8" stroke="#000" stroke-width="1.4" stroke-linecap="butt"/>
<line x1="1780.4" y1="285.8" x2="1792" y2="285.8" stroke="#000" stroke-width="1.4" stroke-linecap="butt"/>
<circle cx="1401" cy="475.9" r="10.8" fill="#fff" stroke="#000" stroke-width="1.3"/>
<circle cx="1497.3" cy="295.6" r="10.8" fill="#fff" stroke="#000" stroke-width="1.3"/>
<circle cx="1593.6" cy="255" r="10.8" fill="#fff" stroke="#000" stroke-width="1.3"/>
<circle cx="1689.9" cy="154" r="10.8" fill="#fff" stroke="#000" stroke-width="1.3"/>
<circle cx="1786.2" cy="264.3" r="10.8" fill="#fff" stroke="#000" stroke-width="1.3"/>
<path d="M1401 475.9 L1497.3 336 L1593.6 291.6 L1689.9 155.4 L1786.2 193.7" fill="none" stroke="#000" stroke-width="1.25" stroke-linejoin="round"/>
<line x1="1689.9" y1="155.4" x2="1689.9" y2="134.2" stroke="#000" stroke-width="1.4" stroke-linecap="butt"/>
<line x1="1684.1" y1="134.2" x2="1695.7" y2="134.2" stroke="#000" stroke-width="1.4" stroke-linecap="butt"/>
<line x1="1689.9" y1="155.4" x2="1689.9" y2="178.6" stroke="#000" stroke-width="1.4" stroke-linecap="butt"/>
<line x1="1684.1" y1="178.6" x2="1695.7" y2="178.6" stroke="#000" stroke-width="1.4" stroke-linecap="butt"/>
<line x1="1786.2" y1="193.7" x2="1786.2" y2="143" stroke="#000" stroke-width="1.4" stroke-linecap="butt"/>
<line x1="1780.4" y1="143" x2="1792" y2="143" stroke="#000" stroke-width="1.4" stroke-linecap="butt"/>
<line x1="1786.2" y1="193.7" x2="1786.2" y2="241.3" stroke="#000" stroke-width="1.4" stroke-linecap="butt"/>
<line x1="1780.4" y1="241.3" x2="1792" y2="241.3" stroke="#000" stroke-width="1.4" stroke-linecap="butt"/>
<circle cx="1401" cy="475.9" r="11.3" fill="#000"/>
<circle cx="1497.3" cy="336" r="11.3" fill="#000"/>
<circle cx="1593.6" cy="291.6" r="11.3" fill="#000"/>
<circle cx="1689.9" cy="155.4" r="11.3" fill="#000"/>
<circle cx="1786.2" cy="193.7" r="11.3" fill="#000"/>
<path d="M1401 475.9 L1497.3 324.6 L1593.6 253.2 L1689.9 286.8 L1786.2 188.4" fill="none" stroke="#000" stroke-width="2.3" stroke-linejoin="round"/>
<line x1="1497.3" y1="324.6" x2="1497.3" y2="299.5" stroke="#000" stroke-width="2.4" stroke-linecap="butt"/>
<line x1="1486" y1="299.5" x2="1508.6" y2="299.5" stroke="#000" stroke-width="2.4" stroke-linecap="round"/>
<line x1="1497.3" y1="324.6" x2="1497.3" y2="351.1" stroke="#000" stroke-width="2.4" stroke-linecap="butt"/>
<line x1="1486" y1="351.1" x2="1508.6" y2="351.1" stroke="#000" stroke-width="2.4" stroke-linecap="round"/>
<line x1="1593.6" y1="253.2" x2="1593.6" y2="227.6" stroke="#000" stroke-width="2.4" stroke-linecap="butt"/>
<line x1="1582.3" y1="227.6" x2="1604.9" y2="227.6" stroke="#000" stroke-width="2.4" stroke-linecap="round"/>
<line x1="1593.6" y1="253.2" x2="1593.6" y2="280.2" stroke="#000" stroke-width="2.4" stroke-linecap="butt"/>
<line x1="1582.3" y1="280.2" x2="1604.9" y2="280.2" stroke="#000" stroke-width="2.4" stroke-linecap="round"/>
<line x1="1689.9" y1="286.8" x2="1689.9" y2="262.5" stroke="#000" stroke-width="2.4" stroke-linecap="butt"/>
<line x1="1678.6" y1="262.5" x2="1701.2" y2="262.5" stroke="#000" stroke-width="2.4" stroke-linecap="round"/>
<line x1="1689.9" y1="286.8" x2="1689.9" y2="312.7" stroke="#000" stroke-width="2.4" stroke-linecap="butt"/>
<line x1="1678.6" y1="312.7" x2="1701.2" y2="312.7" stroke="#000" stroke-width="2.4" stroke-linecap="round"/>
<line x1="1786.2" y1="188.4" x2="1786.2" y2="116.2" stroke="#000" stroke-width="2.4" stroke-linecap="butt"/>
<line x1="1774.9" y1="116.2" x2="1797.5" y2="116.2" stroke="#000" stroke-width="2.4" stroke-linecap="round"/>
<line x1="1786.2" y1="188.4" x2="1786.2" y2="261.2" stroke="#000" stroke-width="2.4" stroke-linecap="butt"/>
<line x1="1774.9" y1="261.2" x2="1797.5" y2="261.2" stroke="#000" stroke-width="2.4" stroke-linecap="round"/>
<circle cx="1401" cy="475.9" r="10.6" fill="#c0c0c0" stroke="#000" stroke-width="2.4"/>
<circle cx="1497.3" cy="324.6" r="10.6" fill="#c0c0c0" stroke="#000" stroke-width="2.4"/>
<circle cx="1593.6" cy="253.2" r="10.6" fill="#c0c0c0" stroke="#000" stroke-width="2.4"/>
<circle cx="1689.9" cy="286.8" r="10.6" fill="#c0c0c0" stroke="#000" stroke-width="2.4"/>
<circle cx="1786.2" cy="188.4" r="10.6" fill="#c0c0c0" stroke="#000" stroke-width="2.4"/>
<path d="M2007.4 534.8 L2103.7 397.1 L2200 250.2 L2296.3 160 L2392.6 272.7" fill="none" stroke="#000" stroke-width="1.25" stroke-linejoin="round"/>
<line x1="2103.7" y1="397.1" x2="2103.7" y2="352" stroke="#000" stroke-width="1.4" stroke-linecap="butt"/>
<line x1="2097.9" y1="352" x2="2109.5" y2="352" stroke="#000" stroke-width="1.4" stroke-linecap="butt"/>
<line x1="2103.7" y1="397.1" x2="2103.7" y2="443" stroke="#000" stroke-width="1.4" stroke-linecap="butt"/>
<line x1="2097.9" y1="443" x2="2109.5" y2="443" stroke="#000" stroke-width="1.4" stroke-linecap="butt"/>
<line x1="2200" y1="250.2" x2="2200" y2="211" stroke="#000" stroke-width="1.4" stroke-linecap="butt"/>
<line x1="2194.2" y1="211" x2="2205.8" y2="211" stroke="#000" stroke-width="1.4" stroke-linecap="butt"/>
<line x1="2200" y1="250.2" x2="2200" y2="289.3" stroke="#000" stroke-width="1.4" stroke-linecap="butt"/>
<line x1="2194.2" y1="289.3" x2="2205.8" y2="289.3" stroke="#000" stroke-width="1.4" stroke-linecap="butt"/>
<line x1="2296.3" y1="160" x2="2296.3" y2="189.2" stroke="#000" stroke-width="1.4" stroke-linecap="butt"/>
<line x1="2290.5" y1="189.2" x2="2302.1" y2="189.2" stroke="#000" stroke-width="1.4" stroke-linecap="butt"/>
<line x1="2392.6" y1="272.7" x2="2392.6" y2="250.8" stroke="#000" stroke-width="1.4" stroke-linecap="butt"/>
<line x1="2386.8" y1="250.8" x2="2398.4" y2="250.8" stroke="#000" stroke-width="1.4" stroke-linecap="butt"/>
<line x1="2392.6" y1="272.7" x2="2392.6" y2="295.3" stroke="#000" stroke-width="1.4" stroke-linecap="butt"/>
<line x1="2386.8" y1="295.3" x2="2398.4" y2="295.3" stroke="#000" stroke-width="1.4" stroke-linecap="butt"/>
<circle cx="2007.4" cy="534.8" r="10.8" fill="#fff" stroke="#000" stroke-width="1.3"/>
<circle cx="2103.7" cy="397.1" r="10.8" fill="#fff" stroke="#000" stroke-width="1.3"/>
<circle cx="2200" cy="250.2" r="10.8" fill="#fff" stroke="#000" stroke-width="1.3"/>
<circle cx="2296.3" cy="160" r="10.8" fill="#fff" stroke="#000" stroke-width="1.3"/>
<circle cx="2392.6" cy="272.7" r="10.8" fill="#fff" stroke="#000" stroke-width="1.3"/>
<path d="M2007.4 534.8 L2103.7 339.4 L2200 318.4 L2296.3 175.1 L2392.6 212.6" fill="none" stroke="#000" stroke-width="1.25" stroke-linejoin="round"/>
<line x1="2103.7" y1="339.4" x2="2103.7" y2="283.3" stroke="#000" stroke-width="1.4" stroke-linecap="butt"/>
<line x1="2097.9" y1="283.3" x2="2109.5" y2="283.3" stroke="#000" stroke-width="1.4" stroke-linecap="butt"/>
<line x1="2103.7" y1="339.4" x2="2103.7" y2="395.5" stroke="#000" stroke-width="1.4" stroke-linecap="butt"/>
<line x1="2097.9" y1="395.5" x2="2109.5" y2="395.5" stroke="#000" stroke-width="1.4" stroke-linecap="butt"/>
<line x1="2200" y1="318.4" x2="2200" y2="289" stroke="#000" stroke-width="1.4" stroke-linecap="butt"/>
<line x1="2194.2" y1="289" x2="2205.8" y2="289" stroke="#000" stroke-width="1.4" stroke-linecap="butt"/>
<line x1="2200" y1="318.4" x2="2200" y2="347.9" stroke="#000" stroke-width="1.4" stroke-linecap="butt"/>
<line x1="2194.2" y1="347.9" x2="2205.8" y2="347.9" stroke="#000" stroke-width="1.4" stroke-linecap="butt"/>
<line x1="2296.3" y1="175.1" x2="2296.3" y2="212.3" stroke="#000" stroke-width="1.4" stroke-linecap="butt"/>
<line x1="2290.5" y1="212.3" x2="2302.1" y2="212.3" stroke="#000" stroke-width="1.4" stroke-linecap="butt"/>
<line x1="2392.6" y1="212.6" x2="2392.6" y2="187.7" stroke="#000" stroke-width="1.4" stroke-linecap="butt"/>
<line x1="2386.8" y1="187.7" x2="2398.4" y2="187.7" stroke="#000" stroke-width="1.4" stroke-linecap="butt"/>
<line x1="2392.6" y1="212.6" x2="2392.6" y2="237.3" stroke="#000" stroke-width="1.4" stroke-linecap="butt"/>
<line x1="2386.8" y1="237.3" x2="2398.4" y2="237.3" stroke="#000" stroke-width="1.4" stroke-linecap="butt"/>
<circle cx="2007.4" cy="534.8" r="11.3" fill="#000"/>
<circle cx="2103.7" cy="339.4" r="11.3" fill="#000"/>
<circle cx="2200" cy="318.4" r="11.3" fill="#000"/>
<circle cx="2296.3" cy="175.1" r="11.3" fill="#000"/>
<circle cx="2392.6" cy="212.6" r="11.3" fill="#000"/>
<path d="M2007.4 534.8 L2103.7 525.7 L2200 218.4 L2296.3 126.7 L2392.6 199.7" fill="none" stroke="#000" stroke-width="2.3" stroke-linejoin="round"/>
<line x1="2200" y1="218.4" x2="2200" y2="158.3" stroke="#000" stroke-width="2.4" stroke-linecap="butt"/>
<line x1="2188.7" y1="158.3" x2="2211.3" y2="158.3" stroke="#000" stroke-width="2.4" stroke-linecap="round"/>
<line x1="2200" y1="218.4" x2="2200" y2="279.4" stroke="#000" stroke-width="2.4" stroke-linecap="butt"/>
<line x1="2188.7" y1="279.4" x2="2211.3" y2="279.4" stroke="#000" stroke-width="2.4" stroke-linecap="round"/>
<line x1="2296.3" y1="126.7" x2="2296.3" y2="83.1" stroke="#000" stroke-width="2.4" stroke-linecap="butt"/>
<line x1="2285" y1="83.1" x2="2307.6" y2="83.1" stroke="#000" stroke-width="2.4" stroke-linecap="round"/>
<line x1="2296.3" y1="126.7" x2="2296.3" y2="170" stroke="#000" stroke-width="2.4" stroke-linecap="butt"/>
<line x1="2285" y1="170" x2="2307.6" y2="170" stroke="#000" stroke-width="2.4" stroke-linecap="round"/>
<line x1="2392.6" y1="199.7" x2="2392.6" y2="181.1" stroke="#000" stroke-width="2.4" stroke-linecap="butt"/>
<line x1="2381.3" y1="181.1" x2="2403.9" y2="181.1" stroke="#000" stroke-width="2.4" stroke-linecap="round"/>
<line x1="2392.6" y1="199.7" x2="2392.6" y2="218.4" stroke="#000" stroke-width="2.4" stroke-linecap="butt"/>
<line x1="2381.3" y1="218.4" x2="2403.9" y2="218.4" stroke="#000" stroke-width="2.4" stroke-linecap="round"/>
<circle cx="2007.4" cy="534.8" r="10.6" fill="#c0c0c0" stroke="#000" stroke-width="2.4"/>
<circle cx="2103.7" cy="525.7" r="10.6" fill="#c0c0c0" stroke="#000" stroke-width="2.4"/>
<circle cx="2200" cy="218.4" r="10.6" fill="#c0c0c0" stroke="#000" stroke-width="2.4"/>
<circle cx="2296.3" cy="126.7" r="10.6" fill="#c0c0c0" stroke="#000" stroke-width="2.4"/>
<circle cx="2392.6" cy="199.7" r="10.6" fill="#c0c0c0" stroke="#000" stroke-width="2.4"/>
<path d="M159.8 1044 L256.1 946.4 L352.4 829.2 L448.7 722.2 L545 867.9" fill="none" stroke="#000" stroke-width="1.25" stroke-linejoin="round"/>
<line x1="159.8" y1="1044" x2="159.8" y2="1040.1" stroke="#000" stroke-width="1.4" stroke-linecap="butt"/>
<line x1="154" y1="1040.1" x2="165.6" y2="1040.1" stroke="#000" stroke-width="1.4" stroke-linecap="butt"/>
<line x1="159.8" y1="1044" x2="159.8" y2="1048" stroke="#000" stroke-width="1.4" stroke-linecap="butt"/>
<line x1="154" y1="1048" x2="165.6" y2="1048" stroke="#000" stroke-width="1.4" stroke-linecap="butt"/>
<line x1="352.4" y1="829.2" x2="352.4" y2="807.2" stroke="#000" stroke-width="1.4" stroke-linecap="butt"/>
<line x1="346.6" y1="807.2" x2="358.2" y2="807.2" stroke="#000" stroke-width="1.4" stroke-linecap="butt"/>
<line x1="352.4" y1="829.2" x2="352.4" y2="851.4" stroke="#000" stroke-width="1.4" stroke-linecap="butt"/>
<line x1="346.6" y1="851.4" x2="358.2" y2="851.4" stroke="#000" stroke-width="1.4" stroke-linecap="butt"/>
<line x1="448.7" y1="722.2" x2="448.7" y2="688.5" stroke="#000" stroke-width="1.4" stroke-linecap="butt"/>
<line x1="442.9" y1="688.5" x2="454.5" y2="688.5" stroke="#000" stroke-width="1.4" stroke-linecap="butt"/>
<line x1="448.7" y1="722.2" x2="448.7" y2="756" stroke="#000" stroke-width="1.4" stroke-linecap="butt"/>
<line x1="442.9" y1="756" x2="454.5" y2="756" stroke="#000" stroke-width="1.4" stroke-linecap="butt"/>
<line x1="545" y1="867.9" x2="545" y2="826.2" stroke="#000" stroke-width="1.4" stroke-linecap="butt"/>
<line x1="539.2" y1="826.2" x2="550.8" y2="826.2" stroke="#000" stroke-width="1.4" stroke-linecap="butt"/>
<line x1="545" y1="867.9" x2="545" y2="910" stroke="#000" stroke-width="1.4" stroke-linecap="butt"/>
<line x1="539.2" y1="910" x2="550.8" y2="910" stroke="#000" stroke-width="1.4" stroke-linecap="butt"/>
<circle cx="159.8" cy="1044" r="10.8" fill="#fff" stroke="#000" stroke-width="1.3"/>
<circle cx="256.1" cy="946.4" r="10.8" fill="#fff" stroke="#000" stroke-width="1.3"/>
<circle cx="352.4" cy="829.2" r="10.8" fill="#fff" stroke="#000" stroke-width="1.3"/>
<circle cx="448.7" cy="722.2" r="10.8" fill="#fff" stroke="#000" stroke-width="1.3"/>
<circle cx="545" cy="867.9" r="10.8" fill="#fff" stroke="#000" stroke-width="1.3"/>
<path d="M159.8 1018.2 L256.1 921.4 L352.4 746.2 L448.7 756.2 L545 977" fill="none" stroke="#000" stroke-width="1.25" stroke-linejoin="round"/>
<line x1="256.1" y1="921.4" x2="256.1" y2="893.8" stroke="#000" stroke-width="1.4" stroke-linecap="butt"/>
<line x1="250.3" y1="893.8" x2="261.9" y2="893.8" stroke="#000" stroke-width="1.4" stroke-linecap="butt"/>
<line x1="256.1" y1="921.4" x2="256.1" y2="949" stroke="#000" stroke-width="1.4" stroke-linecap="butt"/>
<line x1="250.3" y1="949" x2="261.9" y2="949" stroke="#000" stroke-width="1.4" stroke-linecap="butt"/>
<line x1="352.4" y1="746.2" x2="352.4" y2="727.9" stroke="#000" stroke-width="1.4" stroke-linecap="butt"/>
<line x1="346.6" y1="727.9" x2="358.2" y2="727.9" stroke="#000" stroke-width="1.4" stroke-linecap="butt"/>
<line x1="352.4" y1="746.2" x2="352.4" y2="765.2" stroke="#000" stroke-width="1.4" stroke-linecap="butt"/>
<line x1="346.6" y1="765.2" x2="358.2" y2="765.2" stroke="#000" stroke-width="1.4" stroke-linecap="butt"/>
<line x1="448.7" y1="756.2" x2="448.7" y2="682.5" stroke="#000" stroke-width="1.4" stroke-linecap="butt"/>
<line x1="442.9" y1="682.5" x2="454.5" y2="682.5" stroke="#000" stroke-width="1.4" stroke-linecap="butt"/>
<line x1="448.7" y1="756.2" x2="448.7" y2="831.3" stroke="#000" stroke-width="1.4" stroke-linecap="butt"/>
<line x1="442.9" y1="831.3" x2="454.5" y2="831.3" stroke="#000" stroke-width="1.4" stroke-linecap="butt"/>
<line x1="545" y1="977" x2="545" y2="957" stroke="#000" stroke-width="1.4" stroke-linecap="butt"/>
<line x1="539.2" y1="957" x2="550.8" y2="957" stroke="#000" stroke-width="1.4" stroke-linecap="butt"/>
<line x1="545" y1="977" x2="545" y2="998" stroke="#000" stroke-width="1.4" stroke-linecap="butt"/>
<line x1="539.2" y1="998" x2="550.8" y2="998" stroke="#000" stroke-width="1.4" stroke-linecap="butt"/>
<circle cx="159.8" cy="1018.2" r="11.3" fill="#000"/>
<circle cx="256.1" cy="921.4" r="11.3" fill="#000"/>
<circle cx="352.4" cy="746.2" r="11.3" fill="#000"/>
<circle cx="448.7" cy="756.2" r="11.3" fill="#000"/>
<circle cx="545" cy="977" r="11.3" fill="#000"/>
<path d="M159.8 1062.6 L256.1 996.5 L352.4 829.8 L448.7 795.8 L545 931.9" fill="none" stroke="#000" stroke-width="2.3" stroke-linejoin="round"/>
<line x1="159.8" y1="1062.6" x2="159.8" y2="1047.6" stroke="#000" stroke-width="2.4" stroke-linecap="butt"/>
<line x1="148.5" y1="1047.6" x2="171.1" y2="1047.6" stroke="#000" stroke-width="2.4" stroke-linecap="round"/>
<line x1="159.8" y1="1062.6" x2="159.8" y2="1079.8" stroke="#000" stroke-width="2.4" stroke-linecap="butt"/>
<line x1="148.5" y1="1079.8" x2="171.1" y2="1079.8" stroke="#000" stroke-width="2.4" stroke-linecap="round"/>
<line x1="256.1" y1="996.5" x2="256.1" y2="982.1" stroke="#000" stroke-width="2.4" stroke-linecap="butt"/>
<line x1="244.8" y1="982.1" x2="267.4" y2="982.1" stroke="#000" stroke-width="2.4" stroke-linecap="round"/>
<line x1="256.1" y1="996.5" x2="256.1" y2="1011.6" stroke="#000" stroke-width="2.4" stroke-linecap="butt"/>
<line x1="244.8" y1="1011.6" x2="267.4" y2="1011.6" stroke="#000" stroke-width="2.4" stroke-linecap="round"/>
<line x1="352.4" y1="829.8" x2="352.4" y2="812.6" stroke="#000" stroke-width="2.4" stroke-linecap="butt"/>
<line x1="341.1" y1="812.6" x2="363.7" y2="812.6" stroke="#000" stroke-width="2.4" stroke-linecap="round"/>
<line x1="352.4" y1="829.8" x2="352.4" y2="846.9" stroke="#000" stroke-width="2.4" stroke-linecap="butt"/>
<line x1="341.1" y1="846.9" x2="363.7" y2="846.9" stroke="#000" stroke-width="2.4" stroke-linecap="round"/>
<line x1="448.7" y1="795.8" x2="448.7" y2="746.2" stroke="#000" stroke-width="2.4" stroke-linecap="butt"/>
<line x1="437.4" y1="746.2" x2="460" y2="746.2" stroke="#000" stroke-width="2.4" stroke-linecap="round"/>
<line x1="448.7" y1="795.8" x2="448.7" y2="845.7" stroke="#000" stroke-width="2.4" stroke-linecap="butt"/>
<line x1="437.4" y1="845.7" x2="460" y2="845.7" stroke="#000" stroke-width="2.4" stroke-linecap="round"/>
<line x1="545" y1="931.9" x2="545" y2="907" stroke="#000" stroke-width="2.4" stroke-linecap="butt"/>
<line x1="533.7" y1="907" x2="556.3" y2="907" stroke="#000" stroke-width="2.4" stroke-linecap="round"/>
<line x1="545" y1="931.9" x2="545" y2="956.9" stroke="#000" stroke-width="2.4" stroke-linecap="butt"/>
<line x1="533.7" y1="956.9" x2="556.3" y2="956.9" stroke="#000" stroke-width="2.4" stroke-linecap="round"/>
<circle cx="159.8" cy="1062.6" r="10.6" fill="#c0c0c0" stroke="#000" stroke-width="2.4"/>
<circle cx="256.1" cy="996.5" r="10.6" fill="#c0c0c0" stroke="#000" stroke-width="2.4"/>
<circle cx="352.4" cy="829.8" r="10.6" fill="#c0c0c0" stroke="#000" stroke-width="2.4"/>
<circle cx="448.7" cy="795.8" r="10.6" fill="#c0c0c0" stroke="#000" stroke-width="2.4"/>
<circle cx="545" cy="931.9" r="10.6" fill="#c0c0c0" stroke="#000" stroke-width="2.4"/>
<path d="M790 1086.1 L886.3 862.8 L982.6 880.3 L1078.9 884.8 L1175.2 945.5" fill="none" stroke="#000" stroke-width="1.25" stroke-linejoin="round"/>
<line x1="790" y1="1086.1" x2="790" y2="1067.1" stroke="#000" stroke-width="1.4" stroke-linecap="butt"/>
<line x1="784.2" y1="1067.1" x2="795.8" y2="1067.1" stroke="#000" stroke-width="1.4" stroke-linecap="butt"/>
<line x1="790" y1="1086.1" x2="790" y2="1105.1" stroke="#000" stroke-width="1.4" stroke-linecap="butt"/>
<line x1="784.2" y1="1105.1" x2="795.8" y2="1105.1" stroke="#000" stroke-width="1.4" stroke-linecap="butt"/>
<line x1="886.3" y1="862.8" x2="886.3" y2="841.7" stroke="#000" stroke-width="1.4" stroke-linecap="butt"/>
<line x1="880.5" y1="841.7" x2="892.1" y2="841.7" stroke="#000" stroke-width="1.4" stroke-linecap="butt"/>
<line x1="886.3" y1="862.8" x2="886.3" y2="883.9" stroke="#000" stroke-width="1.4" stroke-linecap="butt"/>
<line x1="880.5" y1="883.9" x2="892.1" y2="883.9" stroke="#000" stroke-width="1.4" stroke-linecap="butt"/>
<line x1="982.6" y1="880.3" x2="982.6" y2="857.8" stroke="#000" stroke-width="1.4" stroke-linecap="butt"/>
<line x1="976.8" y1="857.8" x2="988.4" y2="857.8" stroke="#000" stroke-width="1.4" stroke-linecap="butt"/>
<line x1="982.6" y1="880.3" x2="982.6" y2="902.8" stroke="#000" stroke-width="1.4" stroke-linecap="butt"/>
<line x1="976.8" y1="902.8" x2="988.4" y2="902.8" stroke="#000" stroke-width="1.4" stroke-linecap="butt"/>
<line x1="1175.2" y1="945.5" x2="1175.2" y2="923.5" stroke="#000" stroke-width="1.4" stroke-linecap="butt"/>
<line x1="1169.4" y1="923.5" x2="1181" y2="923.5" stroke="#000" stroke-width="1.4" stroke-linecap="butt"/>
<line x1="1175.2" y1="945.5" x2="1175.2" y2="969.5" stroke="#000" stroke-width="1.4" stroke-linecap="butt"/>
<line x1="1169.4" y1="969.5" x2="1181" y2="969.5" stroke="#000" stroke-width="1.4" stroke-linecap="butt"/>
<circle cx="790" cy="1086.1" r="10.8" fill="#fff" stroke="#000" stroke-width="1.3"/>
<circle cx="886.3" cy="862.8" r="10.8" fill="#fff" stroke="#000" stroke-width="1.3"/>
<circle cx="982.6" cy="880.3" r="10.8" fill="#fff" stroke="#000" stroke-width="1.3"/>
<circle cx="1078.9" cy="884.8" r="10.8" fill="#fff" stroke="#000" stroke-width="1.3"/>
<circle cx="1175.2" cy="945.5" r="10.8" fill="#fff" stroke="#000" stroke-width="1.3"/>
<path d="M790 1033.5 L886.3 832.2 L982.6 823.2 L1078.9 790.7 L1175.2 883.9" fill="none" stroke="#000" stroke-width="1.25" stroke-linejoin="round"/>
<line x1="790" y1="1033.5" x2="790" y2="990" stroke="#000" stroke-width="1.4" stroke-linecap="butt"/>
<line x1="784.2" y1="990" x2="795.8" y2="990" stroke="#000" stroke-width="1.4" stroke-linecap="butt"/>
<line x1="790" y1="1033.5" x2="790" y2="1077" stroke="#000" stroke-width="1.4" stroke-linecap="butt"/>
<line x1="784.2" y1="1077" x2="795.8" y2="1077" stroke="#000" stroke-width="1.4" stroke-linecap="butt"/>
<line x1="982.6" y1="823.2" x2="982.6" y2="793.7" stroke="#000" stroke-width="1.4" stroke-linecap="butt"/>
<line x1="976.8" y1="793.7" x2="988.4" y2="793.7" stroke="#000" stroke-width="1.4" stroke-linecap="butt"/>
<line x1="982.6" y1="823.2" x2="982.6" y2="852.7" stroke="#000" stroke-width="1.4" stroke-linecap="butt"/>
<line x1="976.8" y1="852.7" x2="988.4" y2="852.7" stroke="#000" stroke-width="1.4" stroke-linecap="butt"/>
<line x1="1078.9" y1="790.7" x2="1078.9" y2="743.2" stroke="#000" stroke-width="1.4" stroke-linecap="butt"/>
<line x1="1073.1" y1="743.2" x2="1084.7" y2="743.2" stroke="#000" stroke-width="1.4" stroke-linecap="butt"/>
<line x1="1078.9" y1="790.7" x2="1078.9" y2="839.4" stroke="#000" stroke-width="1.4" stroke-linecap="butt"/>
<line x1="1073.1" y1="839.4" x2="1084.7" y2="839.4" stroke="#000" stroke-width="1.4" stroke-linecap="butt"/>
<line x1="1175.2" y1="883.9" x2="1175.2" y2="820.8" stroke="#000" stroke-width="1.4" stroke-linecap="butt"/>
<line x1="1169.4" y1="820.8" x2="1181" y2="820.8" stroke="#000" stroke-width="1.4" stroke-linecap="butt"/>
<line x1="1175.2" y1="883.9" x2="1175.2" y2="947" stroke="#000" stroke-width="1.4" stroke-linecap="butt"/>
<line x1="1169.4" y1="947" x2="1181" y2="947" stroke="#000" stroke-width="1.4" stroke-linecap="butt"/>
<circle cx="790" cy="1033.5" r="11.3" fill="#000"/>
<circle cx="886.3" cy="832.2" r="11.3" fill="#000"/>
<circle cx="982.6" cy="823.2" r="11.3" fill="#000"/>
<circle cx="1078.9" cy="790.7" r="11.3" fill="#000"/>
<circle cx="1175.2" cy="883.9" r="11.3" fill="#000"/>
<path d="M790 1097.2 L886.3 925 L982.6 852.3 L1078.9 935.8 L1175.2 947" fill="none" stroke="#000" stroke-width="2.3" stroke-linejoin="round"/>
<line x1="886.3" y1="925" x2="886.3" y2="893.5" stroke="#000" stroke-width="2.4" stroke-linecap="butt"/>
<line x1="875" y1="893.5" x2="897.6" y2="893.5" stroke="#000" stroke-width="2.4" stroke-linecap="round"/>
<line x1="886.3" y1="925" x2="886.3" y2="957.5" stroke="#000" stroke-width="2.4" stroke-linecap="butt"/>
<line x1="875" y1="957.5" x2="897.6" y2="957.5" stroke="#000" stroke-width="2.4" stroke-linecap="round"/>
<line x1="982.6" y1="852.3" x2="982.6" y2="838.2" stroke="#000" stroke-width="2.4" stroke-linecap="butt"/>
<line x1="971.3" y1="838.2" x2="993.9" y2="838.2" stroke="#000" stroke-width="2.4" stroke-linecap="round"/>
<line x1="982.6" y1="852.3" x2="982.6" y2="866.7" stroke="#000" stroke-width="2.4" stroke-linecap="butt"/>
<line x1="971.3" y1="866.7" x2="993.9" y2="866.7" stroke="#000" stroke-width="2.4" stroke-linecap="round"/>
<line x1="1078.9" y1="935.8" x2="1078.9" y2="913" stroke="#000" stroke-width="2.4" stroke-linecap="butt"/>
<line x1="1067.6" y1="913" x2="1090.2" y2="913" stroke="#000" stroke-width="2.4" stroke-linecap="round"/>
<line x1="1078.9" y1="935.8" x2="1078.9" y2="959.9" stroke="#000" stroke-width="2.4" stroke-linecap="butt"/>
<line x1="1067.6" y1="959.9" x2="1090.2" y2="959.9" stroke="#000" stroke-width="2.4" stroke-linecap="round"/>
<line x1="1175.2" y1="947" x2="1175.2" y2="875.1" stroke="#000" stroke-width="2.4" stroke-linecap="butt"/>
<line x1="1163.9" y1="875.1" x2="1186.5" y2="875.1" stroke="#000" stroke-width="2.4" stroke-linecap="round"/>
<line x1="1175.2" y1="947" x2="1175.2" y2="1018.5" stroke="#000" stroke-width="2.4" stroke-linecap="butt"/>
<line x1="1163.9" y1="1018.5" x2="1186.5" y2="1018.5" stroke="#000" stroke-width="2.4" stroke-linecap="round"/>
<circle cx="790" cy="1097.2" r="10.6" fill="#c0c0c0" stroke="#000" stroke-width="2.4"/>
<circle cx="886.3" cy="925" r="10.6" fill="#c0c0c0" stroke="#000" stroke-width="2.4"/>
<circle cx="982.6" cy="852.3" r="10.6" fill="#c0c0c0" stroke="#000" stroke-width="2.4"/>
<circle cx="1078.9" cy="935.8" r="10.6" fill="#c0c0c0" stroke="#000" stroke-width="2.4"/>
<circle cx="1175.2" cy="947" r="10.6" fill="#c0c0c0" stroke="#000" stroke-width="2.4"/>
<path d="M1401 1085 L1497.3 827.4 L1593.6 797.6 L1689.9 741.1 L1786.2 861.9" fill="none" stroke="#000" stroke-width="1.25" stroke-linejoin="round"/>
<line x1="1497.3" y1="827.4" x2="1497.3" y2="800.3" stroke="#000" stroke-width="1.4" stroke-linecap="butt"/>
<line x1="1491.5" y1="800.3" x2="1503.1" y2="800.3" stroke="#000" stroke-width="1.4" stroke-linecap="butt"/>
<line x1="1497.3" y1="827.4" x2="1497.3" y2="855.9" stroke="#000" stroke-width="1.4" stroke-linecap="butt"/>
<line x1="1491.5" y1="855.9" x2="1503.1" y2="855.9" stroke="#000" stroke-width="1.4" stroke-linecap="butt"/>
<line x1="1593.6" y1="797.6" x2="1593.6" y2="787.1" stroke="#000" stroke-width="1.4" stroke-linecap="butt"/>
<line x1="1587.8" y1="787.1" x2="1599.4" y2="787.1" stroke="#000" stroke-width="1.4" stroke-linecap="butt"/>
<line x1="1593.6" y1="797.6" x2="1593.6" y2="808.1" stroke="#000" stroke-width="1.4" stroke-linecap="butt"/>
<line x1="1587.8" y1="808.1" x2="1599.4" y2="808.1" stroke="#000" stroke-width="1.4" stroke-linecap="butt"/>
<line x1="1689.9" y1="741.1" x2="1689.9" y2="700.6" stroke="#000" stroke-width="1.4" stroke-linecap="butt"/>
<line x1="1684.1" y1="700.6" x2="1695.7" y2="700.6" stroke="#000" stroke-width="1.4" stroke-linecap="butt"/>
<line x1="1786.2" y1="861.9" x2="1786.2" y2="846.3" stroke="#000" stroke-width="1.4" stroke-linecap="butt"/>
<line x1="1780.4" y1="846.3" x2="1792" y2="846.3" stroke="#000" stroke-width="1.4" stroke-linecap="butt"/>
<line x1="1786.2" y1="861.9" x2="1786.2" y2="878.8" stroke="#000" stroke-width="1.4" stroke-linecap="butt"/>
<line x1="1780.4" y1="878.8" x2="1792" y2="878.8" stroke="#000" stroke-width="1.4" stroke-linecap="butt"/>
<circle cx="1401" cy="1085" r="10.8" fill="#fff" stroke="#000" stroke-width="1.3"/>
<circle cx="1497.3" cy="827.4" r="10.8" fill="#fff" stroke="#000" stroke-width="1.3"/>
<circle cx="1593.6" cy="797.6" r="10.8" fill="#fff" stroke="#000" stroke-width="1.3"/>
<circle cx="1689.9" cy="741.1" r="10.8" fill="#fff" stroke="#000" stroke-width="1.3"/>
<circle cx="1786.2" cy="861.9" r="10.8" fill="#fff" stroke="#000" stroke-width="1.3"/>
<path d="M1401 1083.7 L1497.3 749.2 L1593.6 808.7 L1689.9 756.2 L1786.2 809.6" fill="none" stroke="#000" stroke-width="1.25" stroke-linejoin="round"/>
<line x1="1497.3" y1="749.2" x2="1497.3" y2="737.5" stroke="#000" stroke-width="1.4" stroke-linecap="butt"/>
<line x1="1491.5" y1="737.5" x2="1503.1" y2="737.5" stroke="#000" stroke-width="1.4" stroke-linecap="butt"/>
<line x1="1497.3" y1="749.2" x2="1497.3" y2="761.6" stroke="#000" stroke-width="1.4" stroke-linecap="butt"/>
<line x1="1491.5" y1="761.6" x2="1503.1" y2="761.6" stroke="#000" stroke-width="1.4" stroke-linecap="butt"/>
<line x1="1689.9" y1="756.2" x2="1689.9" y2="720.7" stroke="#000" stroke-width="1.4" stroke-linecap="butt"/>
<line x1="1684.1" y1="720.7" x2="1695.7" y2="720.7" stroke="#000" stroke-width="1.4" stroke-linecap="butt"/>
<line x1="1689.9" y1="756.2" x2="1689.9" y2="811.1" stroke="#000" stroke-width="1.4" stroke-linecap="butt"/>
<line x1="1684.1" y1="811.1" x2="1695.7" y2="811.1" stroke="#000" stroke-width="1.4" stroke-linecap="butt"/>
<line x1="1786.2" y1="809.6" x2="1786.2" y2="776.6" stroke="#000" stroke-width="1.4" stroke-linecap="butt"/>
<line x1="1780.4" y1="776.6" x2="1792" y2="776.6" stroke="#000" stroke-width="1.4" stroke-linecap="butt"/>
<line x1="1786.2" y1="809.6" x2="1786.2" y2="843.5" stroke="#000" stroke-width="1.4" stroke-linecap="butt"/>
<line x1="1780.4" y1="843.5" x2="1792" y2="843.5" stroke="#000" stroke-width="1.4" stroke-linecap="butt"/>
<circle cx="1401" cy="1083.7" r="11.3" fill="#000"/>
<circle cx="1497.3" cy="749.2" r="11.3" fill="#000"/>
<circle cx="1593.6" cy="808.7" r="11.3" fill="#000"/>
<circle cx="1689.9" cy="756.2" r="11.3" fill="#000"/>
<circle cx="1786.2" cy="809.6" r="11.3" fill="#000"/>
<path d="M1401 1111.3 L1497.3 980 L1593.6 871.8 L1689.9 863.4 L1786.2 900.4" fill="none" stroke="#000" stroke-width="2.3" stroke-linejoin="round"/>
<line x1="1401" y1="1111.3" x2="1401" y2="1103.8" stroke="#000" stroke-width="2.4" stroke-linecap="butt"/>
<line x1="1389.7" y1="1103.8" x2="1412.3" y2="1103.8" stroke="#000" stroke-width="2.4" stroke-linecap="round"/>
<line x1="1401" y1="1111.3" x2="1401" y2="1119.7" stroke="#000" stroke-width="2.4" stroke-linecap="butt"/>
<line x1="1389.7" y1="1119.7" x2="1412.3" y2="1119.7" stroke="#000" stroke-width="2.4" stroke-linecap="round"/>
<line x1="1497.3" y1="980" x2="1497.3" y2="968.9" stroke="#000" stroke-width="2.4" stroke-linecap="butt"/>
<line x1="1486" y1="968.9" x2="1508.6" y2="968.9" stroke="#000" stroke-width="2.4" stroke-linecap="round"/>
<line x1="1497.3" y1="980" x2="1497.3" y2="991.1" stroke="#000" stroke-width="2.4" stroke-linecap="butt"/>
<line x1="1486" y1="991.1" x2="1508.6" y2="991.1" stroke="#000" stroke-width="2.4" stroke-linecap="round"/>
<line x1="1593.6" y1="871.8" x2="1593.6" y2="850.8" stroke="#000" stroke-width="2.4" stroke-linecap="butt"/>
<line x1="1582.3" y1="850.8" x2="1604.9" y2="850.8" stroke="#000" stroke-width="2.4" stroke-linecap="round"/>
<line x1="1593.6" y1="871.8" x2="1593.6" y2="892.9" stroke="#000" stroke-width="2.4" stroke-linecap="butt"/>
<line x1="1582.3" y1="892.9" x2="1604.9" y2="892.9" stroke="#000" stroke-width="2.4" stroke-linecap="round"/>
<circle cx="1401" cy="1111.3" r="10.6" fill="#c0c0c0" stroke="#000" stroke-width="2.4"/>
<circle cx="1497.3" cy="980" r="10.6" fill="#c0c0c0" stroke="#000" stroke-width="2.4"/>
<circle cx="1593.6" cy="871.8" r="10.6" fill="#c0c0c0" stroke="#000" stroke-width="2.4"/>
<circle cx="1689.9" cy="863.4" r="10.6" fill="#c0c0c0" stroke="#000" stroke-width="2.4"/>
<circle cx="1786.2" cy="900.4" r="10.6" fill="#c0c0c0" stroke="#000" stroke-width="2.4"/>
<path d="M2007.4 1152.8 L2103.7 1039.2 L2200 1079.8 L2296.3 986.9 L2392.6 907" fill="none" stroke="#000" stroke-width="1.25" stroke-linejoin="round"/>
<line x1="2103.7" y1="1039.2" x2="2103.7" y2="1025.1" stroke="#000" stroke-width="1.4" stroke-linecap="butt"/>
<line x1="2097.9" y1="1025.1" x2="2109.5" y2="1025.1" stroke="#000" stroke-width="1.4" stroke-linecap="butt"/>
<line x1="2103.7" y1="1039.2" x2="2103.7" y2="1054.2" stroke="#000" stroke-width="1.4" stroke-linecap="butt"/>
<line x1="2097.9" y1="1054.2" x2="2109.5" y2="1054.2" stroke="#000" stroke-width="1.4" stroke-linecap="butt"/>
<line x1="2392.6" y1="907" x2="2392.6" y2="890.8" stroke="#000" stroke-width="1.4" stroke-linecap="butt"/>
<line x1="2386.8" y1="890.8" x2="2398.4" y2="890.8" stroke="#000" stroke-width="1.4" stroke-linecap="butt"/>
<line x1="2392.6" y1="907" x2="2392.6" y2="924.4" stroke="#000" stroke-width="1.4" stroke-linecap="butt"/>
<line x1="2386.8" y1="924.4" x2="2398.4" y2="924.4" stroke="#000" stroke-width="1.4" stroke-linecap="butt"/>
<circle cx="2007.4" cy="1152.8" r="10.8" fill="#fff" stroke="#000" stroke-width="1.3"/>
<circle cx="2103.7" cy="1039.2" r="10.8" fill="#fff" stroke="#000" stroke-width="1.3"/>
<circle cx="2200" cy="1079.8" r="10.8" fill="#fff" stroke="#000" stroke-width="1.3"/>
<circle cx="2296.3" cy="986.9" r="10.8" fill="#fff" stroke="#000" stroke-width="1.3"/>
<circle cx="2392.6" cy="907" r="10.8" fill="#fff" stroke="#000" stroke-width="1.3"/>
<path d="M2007.4 1152.8 L2103.7 938.8 L2200 1021.5 L2296.3 896.5 L2392.6 763.7" fill="none" stroke="#000" stroke-width="1.25" stroke-linejoin="round"/>
<line x1="2103.7" y1="938.8" x2="2103.7" y2="871.8" stroke="#000" stroke-width="1.4" stroke-linecap="butt"/>
<line x1="2097.9" y1="871.8" x2="2109.5" y2="871.8" stroke="#000" stroke-width="1.4" stroke-linecap="butt"/>
<line x1="2103.7" y1="938.8" x2="2103.7" y2="1006.2" stroke="#000" stroke-width="1.4" stroke-linecap="butt"/>
<line x1="2097.9" y1="1006.2" x2="2109.5" y2="1006.2" stroke="#000" stroke-width="1.4" stroke-linecap="butt"/>
<line x1="2392.6" y1="763.7" x2="2392.6" y2="744.1" stroke="#000" stroke-width="1.4" stroke-linecap="butt"/>
<line x1="2386.8" y1="744.1" x2="2398.4" y2="744.1" stroke="#000" stroke-width="1.4" stroke-linecap="butt"/>
<line x1="2392.6" y1="763.7" x2="2392.6" y2="783.2" stroke="#000" stroke-width="1.4" stroke-linecap="butt"/>
<line x1="2386.8" y1="783.2" x2="2398.4" y2="783.2" stroke="#000" stroke-width="1.4" stroke-linecap="butt"/>
<circle cx="2007.4" cy="1152.8" r="11.3" fill="#000"/>
<circle cx="2103.7" cy="938.8" r="11.3" fill="#000"/>
<circle cx="2200" cy="1021.5" r="11.3" fill="#000"/>
<circle cx="2296.3" cy="896.5" r="11.3" fill="#000"/>
<circle cx="2392.6" cy="763.7" r="11.3" fill="#000"/>
<path d="M2007.4 1152.8 L2103.7 1150.4 L2200 1050.6 L2296.3 1027.2 L2392.6 985.1" fill="none" stroke="#000" stroke-width="2.3" stroke-linejoin="round"/>
<line x1="2200" y1="1050.6" x2="2200" y2="1034.7" stroke="#000" stroke-width="2.4" stroke-linecap="butt"/>
<line x1="2188.7" y1="1034.7" x2="2211.3" y2="1034.7" stroke="#000" stroke-width="2.4" stroke-linecap="round"/>
<line x1="2200" y1="1050.6" x2="2200" y2="1066.8" stroke="#000" stroke-width="2.4" stroke-linecap="butt"/>
<line x1="2188.7" y1="1066.8" x2="2211.3" y2="1066.8" stroke="#000" stroke-width="2.4" stroke-linecap="round"/>
<circle cx="2007.4" cy="1152.8" r="10.6" fill="#c0c0c0" stroke="#000" stroke-width="2.4"/>
<circle cx="2103.7" cy="1150.4" r="10.6" fill="#c0c0c0" stroke="#000" stroke-width="2.4"/>
<circle cx="2200" cy="1050.6" r="10.6" fill="#c0c0c0" stroke="#000" stroke-width="2.4"/>
<circle cx="2296.3" cy="1027.2" r="10.6" fill="#c0c0c0" stroke="#000" stroke-width="2.4"/>
<circle cx="2392.6" cy="985.1" r="10.6" fill="#c0c0c0" stroke="#000" stroke-width="2.4"/>
<path d="M159.8 1555.5 L256.1 1450.3 L352.4 1436.8 L448.7 1445.8 L545 1505.9" fill="none" stroke="#000" stroke-width="1.25" stroke-linejoin="round"/>
<line x1="159.8" y1="1555.5" x2="159.8" y2="1524" stroke="#000" stroke-width="1.4" stroke-linecap="butt"/>
<line x1="154" y1="1524" x2="165.6" y2="1524" stroke="#000" stroke-width="1.4" stroke-linecap="butt"/>
<line x1="159.8" y1="1555.5" x2="159.8" y2="1587" stroke="#000" stroke-width="1.4" stroke-linecap="butt"/>
<line x1="154" y1="1587" x2="165.6" y2="1587" stroke="#000" stroke-width="1.4" stroke-linecap="butt"/>
<line x1="256.1" y1="1450.3" x2="256.1" y2="1406.2" stroke="#000" stroke-width="1.4" stroke-linecap="butt"/>
<line x1="250.3" y1="1406.2" x2="261.9" y2="1406.2" stroke="#000" stroke-width="1.4" stroke-linecap="butt"/>
<line x1="256.1" y1="1450.3" x2="256.1" y2="1498.8" stroke="#000" stroke-width="1.4" stroke-linecap="butt"/>
<line x1="250.3" y1="1498.8" x2="261.9" y2="1498.8" stroke="#000" stroke-width="1.4" stroke-linecap="butt"/>
<line x1="448.7" y1="1445.8" x2="448.7" y2="1398.7" stroke="#000" stroke-width="1.4" stroke-linecap="butt"/>
<line x1="442.9" y1="1398.7" x2="454.5" y2="1398.7" stroke="#000" stroke-width="1.4" stroke-linecap="butt"/>
<line x1="448.7" y1="1445.8" x2="448.7" y2="1493.9" stroke="#000" stroke-width="1.4" stroke-linecap="butt"/>
<line x1="442.9" y1="1493.9" x2="454.5" y2="1493.9" stroke="#000" stroke-width="1.4" stroke-linecap="butt"/>
<line x1="545" y1="1505.9" x2="545" y2="1448.8" stroke="#000" stroke-width="1.4" stroke-linecap="butt"/>
<line x1="539.2" y1="1448.8" x2="550.8" y2="1448.8" stroke="#000" stroke-width="1.4" stroke-linecap="butt"/>
<line x1="545" y1="1505.9" x2="545" y2="1563" stroke="#000" stroke-width="1.4" stroke-linecap="butt"/>
<line x1="539.2" y1="1563" x2="550.8" y2="1563" stroke="#000" stroke-width="1.4" stroke-linecap="butt"/>
<circle cx="159.8" cy="1555.5" r="10.8" fill="#fff" stroke="#000" stroke-width="1.3"/>
<circle cx="256.1" cy="1450.3" r="10.8" fill="#fff" stroke="#000" stroke-width="1.3"/>
<circle cx="352.4" cy="1436.8" r="10.8" fill="#fff" stroke="#000" stroke-width="1.3"/>
<circle cx="448.7" cy="1445.8" r="10.8" fill="#fff" stroke="#000" stroke-width="1.3"/>
<circle cx="545" cy="1505.9" r="10.8" fill="#fff" stroke="#000" stroke-width="1.3"/>
<path d="M159.8 1511.9 L256.1 1452.7 L352.4 1434.7 L448.7 1469.9 L545 1567.5" fill="none" stroke="#000" stroke-width="1.25" stroke-linejoin="round"/>
<line x1="159.8" y1="1511.9" x2="159.8" y2="1490" stroke="#000" stroke-width="1.4" stroke-linecap="butt"/>
<line x1="154" y1="1490" x2="165.6" y2="1490" stroke="#000" stroke-width="1.4" stroke-linecap="butt"/>
<line x1="159.8" y1="1511.9" x2="159.8" y2="1533.9" stroke="#000" stroke-width="1.4" stroke-linecap="butt"/>
<line x1="154" y1="1533.9" x2="165.6" y2="1533.9" stroke="#000" stroke-width="1.4" stroke-linecap="butt"/>
<line x1="256.1" y1="1452.7" x2="256.1" y2="1420.3" stroke="#000" stroke-width="1.4" stroke-linecap="butt"/>
<line x1="250.3" y1="1420.3" x2="261.9" y2="1420.3" stroke="#000" stroke-width="1.4" stroke-linecap="butt"/>
<line x1="256.1" y1="1452.7" x2="256.1" y2="1478.9" stroke="#000" stroke-width="1.4" stroke-linecap="butt"/>
<line x1="250.3" y1="1478.9" x2="261.9" y2="1478.9" stroke="#000" stroke-width="1.4" stroke-linecap="butt"/>
<line x1="352.4" y1="1434.7" x2="352.4" y2="1462.4" stroke="#000" stroke-width="1.4" stroke-linecap="butt"/>
<line x1="346.6" y1="1462.4" x2="358.2" y2="1462.4" stroke="#000" stroke-width="1.4" stroke-linecap="butt"/>
<line x1="352.4" y1="1434.7" x2="352.4" y2="1469.9" stroke="#000" stroke-width="1.4" stroke-linecap="butt"/>
<line x1="346.6" y1="1469.9" x2="358.2" y2="1469.9" stroke="#000" stroke-width="1.4" stroke-linecap="butt"/>
<line x1="448.7" y1="1469.9" x2="448.7" y2="1414.9" stroke="#000" stroke-width="1.4" stroke-linecap="butt"/>
<line x1="442.9" y1="1414.9" x2="454.5" y2="1414.9" stroke="#000" stroke-width="1.4" stroke-linecap="butt"/>
<line x1="448.7" y1="1469.9" x2="448.7" y2="1526.4" stroke="#000" stroke-width="1.4" stroke-linecap="butt"/>
<line x1="442.9" y1="1526.4" x2="454.5" y2="1526.4" stroke="#000" stroke-width="1.4" stroke-linecap="butt"/>
<line x1="545" y1="1567.5" x2="545" y2="1535.3" stroke="#000" stroke-width="1.4" stroke-linecap="butt"/>
<line x1="539.2" y1="1535.3" x2="550.8" y2="1535.3" stroke="#000" stroke-width="1.4" stroke-linecap="butt"/>
<line x1="545" y1="1567.5" x2="545" y2="1599.7" stroke="#000" stroke-width="1.4" stroke-linecap="butt"/>
<line x1="539.2" y1="1599.7" x2="550.8" y2="1599.7" stroke="#000" stroke-width="1.4" stroke-linecap="butt"/>
<circle cx="159.8" cy="1511.9" r="11.3" fill="#000"/>
<circle cx="256.1" cy="1452.7" r="11.3" fill="#000"/>
<circle cx="352.4" cy="1434.7" r="11.3" fill="#000"/>
<circle cx="448.7" cy="1469.9" r="11.3" fill="#000"/>
<circle cx="545" cy="1567.5" r="11.3" fill="#000"/>
<path d="M159.8 1584.7 L256.1 1524.9 L352.4 1404.4 L448.7 1472.3 L545 1527.6" fill="none" stroke="#000" stroke-width="2.3" stroke-linejoin="round"/>
<line x1="159.8" y1="1584.7" x2="159.8" y2="1549.5" stroke="#000" stroke-width="2.4" stroke-linecap="butt"/>
<line x1="148.5" y1="1549.5" x2="171.1" y2="1549.5" stroke="#000" stroke-width="2.4" stroke-linecap="round"/>
<line x1="159.8" y1="1584.7" x2="159.8" y2="1619.5" stroke="#000" stroke-width="2.4" stroke-linecap="butt"/>
<line x1="148.5" y1="1619.5" x2="171.1" y2="1619.5" stroke="#000" stroke-width="2.4" stroke-linecap="round"/>
<line x1="256.1" y1="1524.9" x2="256.1" y2="1489.4" stroke="#000" stroke-width="2.4" stroke-linecap="butt"/>
<line x1="244.8" y1="1489.4" x2="267.4" y2="1489.4" stroke="#000" stroke-width="2.4" stroke-linecap="round"/>
<line x1="256.1" y1="1524.9" x2="256.1" y2="1560.9" stroke="#000" stroke-width="2.4" stroke-linecap="butt"/>
<line x1="244.8" y1="1560.9" x2="267.4" y2="1560.9" stroke="#000" stroke-width="2.4" stroke-linecap="round"/>
<line x1="352.4" y1="1404.4" x2="352.4" y2="1384.8" stroke="#000" stroke-width="2.4" stroke-linecap="butt"/>
<line x1="341.1" y1="1384.8" x2="363.7" y2="1384.8" stroke="#000" stroke-width="2.4" stroke-linecap="round"/>
<line x1="352.4" y1="1404.4" x2="352.4" y2="1424.8" stroke="#000" stroke-width="2.4" stroke-linecap="butt"/>
<line x1="341.1" y1="1424.8" x2="363.7" y2="1424.8" stroke="#000" stroke-width="2.4" stroke-linecap="round"/>
<line x1="448.7" y1="1472.3" x2="448.7" y2="1427.8" stroke="#000" stroke-width="2.4" stroke-linecap="butt"/>
<line x1="437.4" y1="1427.8" x2="460" y2="1427.8" stroke="#000" stroke-width="2.4" stroke-linecap="round"/>
<line x1="448.7" y1="1472.3" x2="448.7" y2="1518.5" stroke="#000" stroke-width="2.4" stroke-linecap="butt"/>
<line x1="437.4" y1="1518.5" x2="460" y2="1518.5" stroke="#000" stroke-width="2.4" stroke-linecap="round"/>
<line x1="545" y1="1527.6" x2="545" y2="1493.3" stroke="#000" stroke-width="2.4" stroke-linecap="butt"/>
<line x1="533.7" y1="1493.3" x2="556.3" y2="1493.3" stroke="#000" stroke-width="2.4" stroke-linecap="round"/>
<line x1="545" y1="1527.6" x2="545" y2="1561.5" stroke="#000" stroke-width="2.4" stroke-linecap="butt"/>
<line x1="533.7" y1="1561.5" x2="556.3" y2="1561.5" stroke="#000" stroke-width="2.4" stroke-linecap="round"/>
<circle cx="159.8" cy="1584.7" r="10.6" fill="#c0c0c0" stroke="#000" stroke-width="2.4"/>
<circle cx="256.1" cy="1524.9" r="10.6" fill="#c0c0c0" stroke="#000" stroke-width="2.4"/>
<circle cx="352.4" cy="1404.4" r="10.6" fill="#c0c0c0" stroke="#000" stroke-width="2.4"/>
<circle cx="448.7" cy="1472.3" r="10.6" fill="#c0c0c0" stroke="#000" stroke-width="2.4"/>
<circle cx="545" cy="1527.6" r="10.6" fill="#c0c0c0" stroke="#000" stroke-width="2.4"/>
<path d="M790 1624 L886.3 1338.3 L982.6 1463 L1078.9 1496.9 L1175.2 1514" fill="none" stroke="#000" stroke-width="1.25" stroke-linejoin="round"/>
<line x1="790" y1="1624" x2="790" y2="1592.2" stroke="#000" stroke-width="1.4" stroke-linecap="butt"/>
<line x1="784.2" y1="1592.2" x2="795.8" y2="1592.2" stroke="#000" stroke-width="1.4" stroke-linecap="butt"/>
<line x1="790" y1="1624" x2="790" y2="1655.9" stroke="#000" stroke-width="1.4" stroke-linecap="butt"/>
<line x1="784.2" y1="1655.9" x2="795.8" y2="1655.9" stroke="#000" stroke-width="1.4" stroke-linecap="butt"/>
<line x1="886.3" y1="1338.3" x2="886.3" y2="1279.7" stroke="#000" stroke-width="1.4" stroke-linecap="butt"/>
<line x1="880.5" y1="1279.7" x2="892.1" y2="1279.7" stroke="#000" stroke-width="1.4" stroke-linecap="butt"/>
<line x1="886.3" y1="1338.3" x2="886.3" y2="1396.9" stroke="#000" stroke-width="1.4" stroke-linecap="butt"/>
<line x1="880.5" y1="1396.9" x2="892.1" y2="1396.9" stroke="#000" stroke-width="1.4" stroke-linecap="butt"/>
<line x1="982.6" y1="1463" x2="982.6" y2="1434.1" stroke="#000" stroke-width="1.4" stroke-linecap="butt"/>
<line x1="976.8" y1="1434.1" x2="988.4" y2="1434.1" stroke="#000" stroke-width="1.4" stroke-linecap="butt"/>
<line x1="982.6" y1="1463" x2="982.6" y2="1491.8" stroke="#000" stroke-width="1.4" stroke-linecap="butt"/>
<line x1="976.8" y1="1491.8" x2="988.4" y2="1491.8" stroke="#000" stroke-width="1.4" stroke-linecap="butt"/>
<line x1="1078.9" y1="1496.9" x2="1078.9" y2="1484.9" stroke="#000" stroke-width="1.4" stroke-linecap="butt"/>
<line x1="1073.1" y1="1484.9" x2="1084.7" y2="1484.9" stroke="#000" stroke-width="1.4" stroke-linecap="butt"/>
<line x1="1078.9" y1="1496.9" x2="1078.9" y2="1508.9" stroke="#000" stroke-width="1.4" stroke-linecap="butt"/>
<line x1="1073.1" y1="1508.9" x2="1084.7" y2="1508.9" stroke="#000" stroke-width="1.4" stroke-linecap="butt"/>
<line x1="1175.2" y1="1514" x2="1175.2" y2="1474.1" stroke="#000" stroke-width="1.4" stroke-linecap="butt"/>
<line x1="1169.4" y1="1474.1" x2="1181" y2="1474.1" stroke="#000" stroke-width="1.4" stroke-linecap="butt"/>
<line x1="1175.2" y1="1514" x2="1175.2" y2="1554" stroke="#000" stroke-width="1.4" stroke-linecap="butt"/>
<line x1="1169.4" y1="1554" x2="1181" y2="1554" stroke="#000" stroke-width="1.4" stroke-linecap="butt"/>
<circle cx="790" cy="1624" r="10.8" fill="#fff" stroke="#000" stroke-width="1.3"/>
<circle cx="886.3" cy="1338.3" r="10.8" fill="#fff" stroke="#000" stroke-width="1.3"/>
<circle cx="982.6" cy="1463" r="10.8" fill="#fff" stroke="#000" stroke-width="1.3"/>
<circle cx="1078.9" cy="1496.9" r="10.8" fill="#fff" stroke="#000" stroke-width="1.3"/>
<circle cx="1175.2" cy="1514" r="10.8" fill="#fff" stroke="#000" stroke-width="1.3"/>
<path d="M790 1539.9 L886.3 1338.3 L982.6 1427.8 L1078.9 1460.9 L1175.2 1478.9" fill="none" stroke="#000" stroke-width="1.25" stroke-linejoin="round"/>
<line x1="790" y1="1539.9" x2="790" y2="1470.5" stroke="#000" stroke-width="2.2" stroke-linecap="butt"/>
<line x1="783.7" y1="1470.5" x2="796.3" y2="1470.5" stroke="#000" stroke-width="2.2" stroke-linecap="round"/>
<line x1="790" y1="1539.9" x2="790" y2="1609.3" stroke="#000" stroke-width="2.2" stroke-linecap="butt"/>
<line x1="783.7" y1="1609.3" x2="796.3" y2="1609.3" stroke="#000" stroke-width="2.2" stroke-linecap="round"/>
<line x1="886.3" y1="1338.3" x2="886.3" y2="1305.8" stroke="#000" stroke-width="2.2" stroke-linecap="butt"/>
<line x1="880" y1="1305.8" x2="892.6" y2="1305.8" stroke="#000" stroke-width="2.2" stroke-linecap="round"/>
<line x1="886.3" y1="1338.3" x2="886.3" y2="1370.7" stroke="#000" stroke-width="2.2" stroke-linecap="butt"/>
<line x1="880" y1="1370.7" x2="892.6" y2="1370.7" stroke="#000" stroke-width="2.2" stroke-linecap="round"/>
<line x1="982.6" y1="1427.8" x2="982.6" y2="1394.7" stroke="#000" stroke-width="2.2" stroke-linecap="butt"/>
<line x1="976.3" y1="1394.7" x2="988.9" y2="1394.7" stroke="#000" stroke-width="2.2" stroke-linecap="round"/>
<line x1="982.6" y1="1427.8" x2="982.6" y2="1460.9" stroke="#000" stroke-width="2.2" stroke-linecap="butt"/>
<line x1="976.3" y1="1460.9" x2="988.9" y2="1460.9" stroke="#000" stroke-width="2.2" stroke-linecap="round"/>
<line x1="1078.9" y1="1460.9" x2="1078.9" y2="1417.3" stroke="#000" stroke-width="2.2" stroke-linecap="butt"/>
<line x1="1072.6" y1="1417.3" x2="1085.2" y2="1417.3" stroke="#000" stroke-width="2.2" stroke-linecap="round"/>
<line x1="1078.9" y1="1460.9" x2="1078.9" y2="1504.4" stroke="#000" stroke-width="2.2" stroke-linecap="butt"/>
<line x1="1072.6" y1="1504.4" x2="1085.2" y2="1504.4" stroke="#000" stroke-width="2.2" stroke-linecap="round"/>
<line x1="1175.2" y1="1478.9" x2="1175.2" y2="1392.6" stroke="#000" stroke-width="2.2" stroke-linecap="butt"/>
<line x1="1168.9" y1="1392.6" x2="1181.5" y2="1392.6" stroke="#000" stroke-width="2.2" stroke-linecap="round"/>
<line x1="1175.2" y1="1478.9" x2="1175.2" y2="1565.1" stroke="#000" stroke-width="2.2" stroke-linecap="butt"/>
<line x1="1168.9" y1="1565.1" x2="1181.5" y2="1565.1" stroke="#000" stroke-width="2.2" stroke-linecap="round"/>
<circle cx="790" cy="1539.9" r="11.3" fill="#000"/>
<circle cx="886.3" cy="1338.3" r="11.3" fill="#000"/>
<circle cx="982.6" cy="1427.8" r="11.3" fill="#000"/>
<circle cx="1078.9" cy="1460.9" r="11.3" fill="#000"/>
<circle cx="1175.2" cy="1478.9" r="11.3" fill="#000"/>
<path d="M790 1640.5 L886.3 1435.3 L982.6 1422.7 L1078.9 1510.4 L1175.2 1460.9" fill="none" stroke="#000" stroke-width="2.3" stroke-linejoin="round"/>
<line x1="886.3" y1="1435.3" x2="886.3" y2="1389.6" stroke="#000" stroke-width="2.4" stroke-linecap="butt"/>
<line x1="875" y1="1389.6" x2="897.6" y2="1389.6" stroke="#000" stroke-width="2.4" stroke-linecap="round"/>
<line x1="886.3" y1="1435.3" x2="886.3" y2="1481" stroke="#000" stroke-width="2.4" stroke-linecap="butt"/>
<line x1="875" y1="1481" x2="897.6" y2="1481" stroke="#000" stroke-width="2.4" stroke-linecap="round"/>
<line x1="982.6" y1="1422.7" x2="982.6" y2="1390.2" stroke="#000" stroke-width="2.4" stroke-linecap="butt"/>
<line x1="971.3" y1="1390.2" x2="993.9" y2="1390.2" stroke="#000" stroke-width="2.4" stroke-linecap="round"/>
<line x1="982.6" y1="1422.7" x2="982.6" y2="1455.1" stroke="#000" stroke-width="2.4" stroke-linecap="butt"/>
<line x1="971.3" y1="1455.1" x2="993.9" y2="1455.1" stroke="#000" stroke-width="2.4" stroke-linecap="round"/>
<line x1="1078.9" y1="1510.4" x2="1078.9" y2="1464.5" stroke="#000" stroke-width="2.4" stroke-linecap="butt"/>
<line x1="1067.6" y1="1464.5" x2="1090.2" y2="1464.5" stroke="#000" stroke-width="2.4" stroke-linecap="round"/>
<line x1="1078.9" y1="1510.4" x2="1078.9" y2="1556.4" stroke="#000" stroke-width="2.4" stroke-linecap="butt"/>
<line x1="1067.6" y1="1556.4" x2="1090.2" y2="1556.4" stroke="#000" stroke-width="2.4" stroke-linecap="round"/>
<line x1="1175.2" y1="1460.9" x2="1175.2" y2="1353.3" stroke="#000" stroke-width="2.4" stroke-linecap="butt"/>
<line x1="1163.9" y1="1353.3" x2="1186.5" y2="1353.3" stroke="#000" stroke-width="2.4" stroke-linecap="round"/>
<line x1="1175.2" y1="1460.9" x2="1175.2" y2="1568.4" stroke="#000" stroke-width="2.4" stroke-linecap="butt"/>
<line x1="1163.9" y1="1568.4" x2="1186.5" y2="1568.4" stroke="#000" stroke-width="2.4" stroke-linecap="round"/>
<circle cx="790" cy="1640.5" r="10.6" fill="#c0c0c0" stroke="#000" stroke-width="2.4"/>
<circle cx="886.3" cy="1435.3" r="10.6" fill="#c0c0c0" stroke="#000" stroke-width="2.4"/>
<circle cx="982.6" cy="1422.7" r="10.6" fill="#c0c0c0" stroke="#000" stroke-width="2.4"/>
<circle cx="1078.9" cy="1510.4" r="10.6" fill="#c0c0c0" stroke="#000" stroke-width="2.4"/>
<circle cx="1175.2" cy="1460.9" r="10.6" fill="#c0c0c0" stroke="#000" stroke-width="2.4"/>
<path d="M1401 1636.6 L1497.3 1423.3 L1593.6 1442.8 L1689.9 1489.7 L1786.2 1493.9" fill="none" stroke="#000" stroke-width="1.25" stroke-linejoin="round"/>
<line x1="1497.3" y1="1423.3" x2="1497.3" y2="1376.1" stroke="#000" stroke-width="1.4" stroke-linecap="butt"/>
<line x1="1491.5" y1="1376.1" x2="1503.1" y2="1376.1" stroke="#000" stroke-width="1.4" stroke-linecap="butt"/>
<line x1="1497.3" y1="1423.3" x2="1497.3" y2="1471.4" stroke="#000" stroke-width="1.4" stroke-linecap="butt"/>
<line x1="1491.5" y1="1471.4" x2="1503.1" y2="1471.4" stroke="#000" stroke-width="1.4" stroke-linecap="butt"/>
<line x1="1593.6" y1="1442.8" x2="1593.6" y2="1426.3" stroke="#000" stroke-width="1.4" stroke-linecap="butt"/>
<line x1="1587.8" y1="1426.3" x2="1599.4" y2="1426.3" stroke="#000" stroke-width="1.4" stroke-linecap="butt"/>
<line x1="1593.6" y1="1442.8" x2="1593.6" y2="1460.3" stroke="#000" stroke-width="1.4" stroke-linecap="butt"/>
<line x1="1587.8" y1="1460.3" x2="1599.4" y2="1460.3" stroke="#000" stroke-width="1.4" stroke-linecap="butt"/>
<line x1="1689.9" y1="1489.7" x2="1689.9" y2="1433.8" stroke="#000" stroke-width="1.4" stroke-linecap="butt"/>
<line x1="1684.1" y1="1433.8" x2="1695.7" y2="1433.8" stroke="#000" stroke-width="1.4" stroke-linecap="butt"/>
<line x1="1689.9" y1="1489.7" x2="1689.9" y2="1545.9" stroke="#000" stroke-width="1.4" stroke-linecap="butt"/>
<line x1="1684.1" y1="1545.9" x2="1695.7" y2="1545.9" stroke="#000" stroke-width="1.4" stroke-linecap="butt"/>
<line x1="1786.2" y1="1493.9" x2="1786.2" y2="1452.7" stroke="#000" stroke-width="1.4" stroke-linecap="butt"/>
<line x1="1780.4" y1="1452.7" x2="1792" y2="1452.7" stroke="#000" stroke-width="1.4" stroke-linecap="butt"/>
<line x1="1786.2" y1="1493.9" x2="1786.2" y2="1534.5" stroke="#000" stroke-width="1.4" stroke-linecap="butt"/>
<line x1="1780.4" y1="1534.5" x2="1792" y2="1534.5" stroke="#000" stroke-width="1.4" stroke-linecap="butt"/>
<circle cx="1401" cy="1636.6" r="10.8" fill="#fff" stroke="#000" stroke-width="1.3"/>
<circle cx="1497.3" cy="1423.3" r="10.8" fill="#fff" stroke="#000" stroke-width="1.3"/>
<circle cx="1593.6" cy="1442.8" r="10.8" fill="#fff" stroke="#000" stroke-width="1.3"/>
<circle cx="1689.9" cy="1489.7" r="10.8" fill="#fff" stroke="#000" stroke-width="1.3"/>
<circle cx="1786.2" cy="1493.9" r="10.8" fill="#fff" stroke="#000" stroke-width="1.3"/>
<path d="M1401 1633.6 L1497.3 1319.9 L1593.6 1411.3 L1689.9 1498.4 L1786.2 1505.9" fill="none" stroke="#000" stroke-width="1.25" stroke-linejoin="round"/>
<line x1="1401" y1="1633.6" x2="1401" y2="1617.7" stroke="#000" stroke-width="1.4" stroke-linecap="butt"/>
<line x1="1395.2" y1="1617.7" x2="1406.8" y2="1617.7" stroke="#000" stroke-width="1.4" stroke-linecap="butt"/>
<line x1="1401" y1="1633.6" x2="1401" y2="1649.6" stroke="#000" stroke-width="1.4" stroke-linecap="butt"/>
<line x1="1395.2" y1="1649.6" x2="1406.8" y2="1649.6" stroke="#000" stroke-width="1.4" stroke-linecap="butt"/>
<line x1="1497.3" y1="1319.9" x2="1497.3" y2="1298.6" stroke="#000" stroke-width="1.4" stroke-linecap="butt"/>
<line x1="1491.5" y1="1298.6" x2="1503.1" y2="1298.6" stroke="#000" stroke-width="1.4" stroke-linecap="butt"/>
<line x1="1497.3" y1="1319.9" x2="1497.3" y2="1341.6" stroke="#000" stroke-width="1.4" stroke-linecap="butt"/>
<line x1="1491.5" y1="1341.6" x2="1503.1" y2="1341.6" stroke="#000" stroke-width="1.4" stroke-linecap="butt"/>
<line x1="1593.6" y1="1411.3" x2="1593.6" y2="1391.7" stroke="#000" stroke-width="1.4" stroke-linecap="butt"/>
<line x1="1587.8" y1="1391.7" x2="1599.4" y2="1391.7" stroke="#000" stroke-width="1.4" stroke-linecap="butt"/>
<line x1="1593.6" y1="1411.3" x2="1593.6" y2="1430.8" stroke="#000" stroke-width="1.4" stroke-linecap="butt"/>
<line x1="1587.8" y1="1430.8" x2="1599.4" y2="1430.8" stroke="#000" stroke-width="1.4" stroke-linecap="butt"/>
<line x1="1689.9" y1="1498.4" x2="1689.9" y2="1444.3" stroke="#000" stroke-width="1.4" stroke-linecap="butt"/>
<line x1="1684.1" y1="1444.3" x2="1695.7" y2="1444.3" stroke="#000" stroke-width="1.4" stroke-linecap="butt"/>
<line x1="1689.9" y1="1498.4" x2="1689.9" y2="1552.5" stroke="#000" stroke-width="1.4" stroke-linecap="butt"/>
<line x1="1684.1" y1="1552.5" x2="1695.7" y2="1552.5" stroke="#000" stroke-width="1.4" stroke-linecap="butt"/>
<line x1="1786.2" y1="1505.9" x2="1786.2" y2="1454.2" stroke="#000" stroke-width="1.4" stroke-linecap="butt"/>
<line x1="1780.4" y1="1454.2" x2="1792" y2="1454.2" stroke="#000" stroke-width="1.4" stroke-linecap="butt"/>
<line x1="1786.2" y1="1505.9" x2="1786.2" y2="1557.6" stroke="#000" stroke-width="1.4" stroke-linecap="butt"/>
<line x1="1780.4" y1="1557.6" x2="1792" y2="1557.6" stroke="#000" stroke-width="1.4" stroke-linecap="butt"/>
<circle cx="1401" cy="1633.6" r="11.3" fill="#000"/>
<circle cx="1497.3" cy="1319.9" r="11.3" fill="#000"/>
<circle cx="1593.6" cy="1411.3" r="11.3" fill="#000"/>
<circle cx="1689.9" cy="1498.4" r="11.3" fill="#000"/>
<circle cx="1786.2" cy="1505.9" r="11.3" fill="#000"/>
<path d="M1401 1672.7 L1497.3 1550.1 L1593.6 1500.2 L1689.9 1482.8 L1786.2 1558.5" fill="none" stroke="#000" stroke-width="2.3" stroke-linejoin="round"/>
<line x1="1401" y1="1672.7" x2="1401" y2="1660.7" stroke="#000" stroke-width="2.4" stroke-linecap="butt"/>
<line x1="1389.7" y1="1660.7" x2="1412.3" y2="1660.7" stroke="#000" stroke-width="2.4" stroke-linecap="round"/>
<line x1="1401" y1="1672.7" x2="1401" y2="1685.3" stroke="#000" stroke-width="2.4" stroke-linecap="butt"/>
<line x1="1389.7" y1="1685.3" x2="1412.3" y2="1685.3" stroke="#000" stroke-width="2.4" stroke-linecap="round"/>
<line x1="1497.3" y1="1550.1" x2="1497.3" y2="1523.4" stroke="#000" stroke-width="2.4" stroke-linecap="butt"/>
<line x1="1486" y1="1523.4" x2="1508.6" y2="1523.4" stroke="#000" stroke-width="2.4" stroke-linecap="round"/>
<line x1="1497.3" y1="1550.1" x2="1497.3" y2="1577.4" stroke="#000" stroke-width="2.4" stroke-linecap="butt"/>
<line x1="1486" y1="1577.4" x2="1508.6" y2="1577.4" stroke="#000" stroke-width="2.4" stroke-linecap="round"/>
<line x1="1593.6" y1="1500.2" x2="1593.6" y2="1467.8" stroke="#000" stroke-width="2.4" stroke-linecap="butt"/>
<line x1="1582.3" y1="1467.8" x2="1604.9" y2="1467.8" stroke="#000" stroke-width="2.4" stroke-linecap="round"/>
<line x1="1593.6" y1="1500.2" x2="1593.6" y2="1533" stroke="#000" stroke-width="2.4" stroke-linecap="butt"/>
<line x1="1582.3" y1="1533" x2="1604.9" y2="1533" stroke="#000" stroke-width="2.4" stroke-linecap="round"/>
<line x1="1689.9" y1="1482.8" x2="1689.9" y2="1447.3" stroke="#000" stroke-width="2.4" stroke-linecap="butt"/>
<line x1="1678.6" y1="1447.3" x2="1701.2" y2="1447.3" stroke="#000" stroke-width="2.4" stroke-linecap="round"/>
<line x1="1689.9" y1="1482.8" x2="1689.9" y2="1520" stroke="#000" stroke-width="2.4" stroke-linecap="butt"/>
<line x1="1678.6" y1="1520" x2="1701.2" y2="1520" stroke="#000" stroke-width="2.4" stroke-linecap="round"/>
<line x1="1786.2" y1="1558.5" x2="1786.2" y2="1524.9" stroke="#000" stroke-width="2.4" stroke-linecap="butt"/>
<line x1="1774.9" y1="1524.9" x2="1797.5" y2="1524.9" stroke="#000" stroke-width="2.4" stroke-linecap="round"/>
<line x1="1786.2" y1="1558.5" x2="1786.2" y2="1592.2" stroke="#000" stroke-width="2.4" stroke-linecap="butt"/>
<line x1="1774.9" y1="1592.2" x2="1797.5" y2="1592.2" stroke="#000" stroke-width="2.4" stroke-linecap="round"/>
<circle cx="1401" cy="1672.7" r="10.6" fill="#c0c0c0" stroke="#000" stroke-width="2.4"/>
<circle cx="1497.3" cy="1550.1" r="10.6" fill="#c0c0c0" stroke="#000" stroke-width="2.4"/>
<circle cx="1593.6" cy="1500.2" r="10.6" fill="#c0c0c0" stroke="#000" stroke-width="2.4"/>
<circle cx="1689.9" cy="1482.8" r="10.6" fill="#c0c0c0" stroke="#000" stroke-width="2.4"/>
<circle cx="1786.2" cy="1558.5" r="10.6" fill="#c0c0c0" stroke="#000" stroke-width="2.4"/>
<path d="M2007.4 1718 L2103.7 1432.9 L2200 1651.1 L2296.3 1594.6 L2392.6 1478.3" fill="none" stroke="#000" stroke-width="1.25" stroke-linejoin="round"/>
<line x1="2103.7" y1="1432.9" x2="2103.7" y2="1293.5" stroke="#000" stroke-width="1.4" stroke-linecap="butt"/>
<line x1="2097.9" y1="1293.5" x2="2109.5" y2="1293.5" stroke="#000" stroke-width="1.4" stroke-linecap="butt"/>
<line x1="2103.7" y1="1432.9" x2="2103.7" y2="1572.6" stroke="#000" stroke-width="1.4" stroke-linecap="butt"/>
<line x1="2097.9" y1="1572.6" x2="2109.5" y2="1572.6" stroke="#000" stroke-width="1.4" stroke-linecap="butt"/>
<line x1="2200" y1="1651.1" x2="2200" y2="1638" stroke="#000" stroke-width="1.4" stroke-linecap="butt"/>
<line x1="2194.2" y1="1638" x2="2205.8" y2="1638" stroke="#000" stroke-width="1.4" stroke-linecap="butt"/>
<line x1="2200" y1="1651.1" x2="2200" y2="1664.3" stroke="#000" stroke-width="1.4" stroke-linecap="butt"/>
<line x1="2194.2" y1="1664.3" x2="2205.8" y2="1664.3" stroke="#000" stroke-width="1.4" stroke-linecap="butt"/>
<line x1="2392.6" y1="1478.3" x2="2392.6" y2="1454.8" stroke="#000" stroke-width="1.4" stroke-linecap="butt"/>
<line x1="2386.8" y1="1454.8" x2="2398.4" y2="1454.8" stroke="#000" stroke-width="1.4" stroke-linecap="butt"/>
<line x1="2392.6" y1="1478.3" x2="2392.6" y2="1502.3" stroke="#000" stroke-width="1.4" stroke-linecap="butt"/>
<line x1="2386.8" y1="1502.3" x2="2398.4" y2="1502.3" stroke="#000" stroke-width="1.4" stroke-linecap="butt"/>
<circle cx="2007.4" cy="1718" r="10.8" fill="#fff" stroke="#000" stroke-width="1.3"/>
<circle cx="2103.7" cy="1432.9" r="10.8" fill="#fff" stroke="#000" stroke-width="1.3"/>
<circle cx="2200" cy="1651.1" r="10.8" fill="#fff" stroke="#000" stroke-width="1.3"/>
<circle cx="2296.3" cy="1594.6" r="10.8" fill="#fff" stroke="#000" stroke-width="1.3"/>
<circle cx="2392.6" cy="1478.3" r="10.8" fill="#fff" stroke="#000" stroke-width="1.3"/>
<path d="M2007.4 1714.8 L2103.7 1375.8 L2200 1542.9 L2296.3 1519.4 L2392.6 1387.2" fill="none" stroke="#000" stroke-width="1.25" stroke-linejoin="round"/>
<line x1="2103.7" y1="1375.8" x2="2103.7" y2="1287.5" stroke="#000" stroke-width="1.4" stroke-linecap="butt"/>
<line x1="2097.9" y1="1287.5" x2="2109.5" y2="1287.5" stroke="#000" stroke-width="1.4" stroke-linecap="butt"/>
<line x1="2103.7" y1="1375.8" x2="2103.7" y2="1463.9" stroke="#000" stroke-width="1.4" stroke-linecap="butt"/>
<line x1="2097.9" y1="1463.9" x2="2109.5" y2="1463.9" stroke="#000" stroke-width="1.4" stroke-linecap="butt"/>
<line x1="2200" y1="1542.9" x2="2200" y2="1511.6" stroke="#000" stroke-width="1.4" stroke-linecap="butt"/>
<line x1="2194.2" y1="1511.6" x2="2205.8" y2="1511.6" stroke="#000" stroke-width="1.4" stroke-linecap="butt"/>
<line x1="2200" y1="1542.9" x2="2200" y2="1574.1" stroke="#000" stroke-width="1.4" stroke-linecap="butt"/>
<line x1="2194.2" y1="1574.1" x2="2205.8" y2="1574.1" stroke="#000" stroke-width="1.4" stroke-linecap="butt"/>
<line x1="2296.3" y1="1519.4" x2="2296.3" y2="1499" stroke="#000" stroke-width="1.4" stroke-linecap="butt"/>
<line x1="2290.5" y1="1499" x2="2302.1" y2="1499" stroke="#000" stroke-width="1.4" stroke-linecap="butt"/>
<line x1="2296.3" y1="1519.4" x2="2296.3" y2="1539.6" stroke="#000" stroke-width="1.4" stroke-linecap="butt"/>
<line x1="2290.5" y1="1539.6" x2="2302.1" y2="1539.6" stroke="#000" stroke-width="1.4" stroke-linecap="butt"/>
<line x1="2392.6" y1="1387.2" x2="2392.6" y2="1353.3" stroke="#000" stroke-width="1.4" stroke-linecap="butt"/>
<line x1="2386.8" y1="1353.3" x2="2398.4" y2="1353.3" stroke="#000" stroke-width="1.4" stroke-linecap="butt"/>
<line x1="2392.6" y1="1387.2" x2="2392.6" y2="1422.4" stroke="#000" stroke-width="1.4" stroke-linecap="butt"/>
<line x1="2386.8" y1="1422.4" x2="2398.4" y2="1422.4" stroke="#000" stroke-width="1.4" stroke-linecap="butt"/>
<circle cx="2007.4" cy="1714.8" r="11.3" fill="#000"/>
<circle cx="2103.7" cy="1375.8" r="11.3" fill="#000"/>
<circle cx="2200" cy="1542.9" r="11.3" fill="#000"/>
<circle cx="2296.3" cy="1519.4" r="11.3" fill="#000"/>
<circle cx="2392.6" cy="1387.2" r="11.3" fill="#000"/>
<path d="M2007.4 1720.8 L2103.7 1618 L2200 1627 L2296.3 1634.5 L2392.6 1563" fill="none" stroke="#000" stroke-width="2.3" stroke-linejoin="round"/>
<line x1="2103.7" y1="1618" x2="2103.7" y2="1588" stroke="#000" stroke-width="2.4" stroke-linecap="butt"/>
<line x1="2092.4" y1="1588" x2="2115" y2="1588" stroke="#000" stroke-width="2.4" stroke-linecap="round"/>
<line x1="2103.7" y1="1618" x2="2103.7" y2="1648.7" stroke="#000" stroke-width="2.4" stroke-linecap="butt"/>
<line x1="2092.4" y1="1648.7" x2="2115" y2="1648.7" stroke="#000" stroke-width="2.4" stroke-linecap="round"/>
<line x1="2200" y1="1627" x2="2200" y2="1592.5" stroke="#000" stroke-width="2.4" stroke-linecap="butt"/>
<line x1="2188.7" y1="1592.5" x2="2211.3" y2="1592.5" stroke="#000" stroke-width="2.4" stroke-linecap="round"/>
<line x1="2200" y1="1627" x2="2200" y2="1662.2" stroke="#000" stroke-width="2.4" stroke-linecap="butt"/>
<line x1="2188.7" y1="1662.2" x2="2211.3" y2="1662.2" stroke="#000" stroke-width="2.4" stroke-linecap="round"/>
<line x1="2296.3" y1="1634.5" x2="2296.3" y2="1625.5" stroke="#000" stroke-width="2.4" stroke-linecap="butt"/>
<line x1="2285" y1="1625.5" x2="2307.6" y2="1625.5" stroke="#000" stroke-width="2.4" stroke-linecap="round"/>
<line x1="2296.3" y1="1634.5" x2="2296.3" y2="1644.2" stroke="#000" stroke-width="2.4" stroke-linecap="butt"/>
<line x1="2285" y1="1644.2" x2="2307.6" y2="1644.2" stroke="#000" stroke-width="2.4" stroke-linecap="round"/>
<line x1="2392.6" y1="1563" x2="2392.6" y2="1555.5" stroke="#000" stroke-width="2.4" stroke-linecap="butt"/>
<line x1="2381.3" y1="1555.5" x2="2403.9" y2="1555.5" stroke="#000" stroke-width="2.4" stroke-linecap="round"/>
<line x1="2392.6" y1="1563" x2="2392.6" y2="1570.5" stroke="#000" stroke-width="2.4" stroke-linecap="butt"/>
<line x1="2381.3" y1="1570.5" x2="2403.9" y2="1570.5" stroke="#000" stroke-width="2.4" stroke-linecap="round"/>
<circle cx="2007.4" cy="1720.8" r="10.6" fill="#c0c0c0" stroke="#000" stroke-width="2.4"/>
<circle cx="2103.7" cy="1618" r="10.6" fill="#c0c0c0" stroke="#000" stroke-width="2.4"/>
<circle cx="2200" cy="1627" r="10.6" fill="#c0c0c0" stroke="#000" stroke-width="2.4"/>
<circle cx="2296.3" cy="1634.5" r="10.6" fill="#c0c0c0" stroke="#000" stroke-width="2.4"/>
<circle cx="2392.6" cy="1563" r="10.6" fill="#c0c0c0" stroke="#000" stroke-width="2.4"/>
<text transform="translate(0.6 73.7) scale(1.08 1.055)" x="0" y="0" font-size="42" font-family="'Liberation Sans',Arial,sans-serif" font-weight="bold">A</text>
<text transform="translate(654.5 73.7) scale(1 1.055)" x="0" y="0" font-size="42" font-family="'Liberation Sans',Arial,sans-serif" font-weight="bold">B</text>
<text transform="translate(1269.2 73.7) scale(1 1.055)" x="0" y="0" font-size="42" font-family="'Liberation Sans',Arial,sans-serif" font-weight="bold">C</text>
<text transform="translate(1896.3 73.7) scale(1 1.055)" x="0" y="0" font-size="42" font-family="'Liberation Sans',Arial,sans-serif" font-weight="bold">D</text>
<text transform="translate(2.9 689.2) scale(1 1.055)" x="0" y="0" font-size="42" font-family="'Liberation Sans',Arial,sans-serif" font-weight="bold">E</text>
<text transform="translate(656.8 689.2) scale(1 1.055)" x="0" y="0" font-size="42" font-family="'Liberation Sans',Arial,sans-serif" font-weight="bold">F</text>
<text transform="translate(1268.5 689.2) scale(1 1.055)" x="0" y="0" font-size="42" font-family="'Liberation Sans',Arial,sans-serif" font-weight="bold">G</text>
<text transform="translate(1896.8 689.2) scale(1 1.055)" x="0" y="0" font-size="42" font-family="'Liberation Sans',Arial,sans-serif" font-weight="bold">H</text>
<text transform="translate(10.9 1270.8) scale(1 1.055)" x="0" y="0" font-size="42" font-family="'Liberation Sans',Arial,sans-serif" font-weight="bold">I</text>
<text transform="translate(659.3 1270.8) scale(1 1.055)" x="0" y="0" font-size="42" font-family="'Liberation Sans',Arial,sans-serif" font-weight="bold">J</text>
<text transform="translate(1267.8 1270.8) scale(1 1.055)" x="0" y="0" font-size="42" font-family="'Liberation Sans',Arial,sans-serif" font-weight="bold">K</text>
<text transform="translate(1898 1270.8) scale(1 1.055)" x="0" y="0" font-size="42" font-family="'Liberation Sans',Arial,sans-serif" font-weight="bold">L</text>
<text x="389" y="27.8" font-size="37" text-anchor="start" font-family="'Liberation Serif','Times New Roman',serif" font-weight="normal">Control</text>
<text x="966.9" y="36.5" font-size="37" text-anchor="start" font-family="'Liberation Serif','Times New Roman',serif" font-weight="normal">Glucose</text>
<text x="1572.6" y="34.7" font-size="37.3" text-anchor="start" font-family="'Liberation Serif','Times New Roman',serif" font-weight="normal">Seagrass</text>
<text x="2174" y="37" font-size="37" text-anchor="start" font-family="'Liberation Serif','Times New Roman',serif" font-weight="normal">Mangrove</text>
<text x="234.3" y="1853.9" font-size="36.9" text-anchor="start" font-family="'Liberation Serif','Times New Roman',serif" font-weight="normal">Incubation time (days)</text>
<text x="887" y="1855.5" font-size="36.9" text-anchor="start" font-family="'Liberation Serif','Times New Roman',serif" font-weight="normal">Incubation time (days)</text>
<text x="1459" y="1858.1" font-size="36.9" text-anchor="start" font-family="'Liberation Serif','Times New Roman',serif" font-weight="normal">Incubation time (days)</text>
<text x="2073.1" y="1870.1" font-size="36.9" text-anchor="start" font-family="'Liberation Serif','Times New Roman',serif" font-weight="normal">Incubation time (days)</text>
<line x1="189.2" y1="83.6" x2="274.5" y2="83.6" stroke="#000" stroke-width="2.3" stroke-linecap="butt"/>
<circle cx="231.6" cy="83.6" r="10.6" fill="#c0c0c0" stroke="#000" stroke-width="2.4"/>
<text x="294.5" y="95.8" font-size="37.5" text-anchor="start" font-family="'Liberation Serif','Times New Roman',serif" font-weight="normal">-3°C</text>
<line x1="189.2" y1="143.2" x2="274.5" y2="143.2" stroke="#000" stroke-width="1.25" stroke-linecap="butt"/>
<circle cx="231.6" cy="143.2" r="10.8" fill="#fff" stroke="#000" stroke-width="1.3"/>
<text x="294.5" y="155.7" font-size="37.5" text-anchor="start" font-family="'Liberation Serif','Times New Roman',serif" font-weight="normal">In situ</text>
<line x1="189.2" y1="194.7" x2="274.5" y2="194.7" stroke="#000" stroke-width="1.25" stroke-linecap="butt"/>
<circle cx="231.6" cy="194.7" r="11.3" fill="#000"/>
<text x="294.5" y="206.5" font-size="37.5" text-anchor="start" font-family="'Liberation Serif','Times New Roman',serif" font-weight="normal">+3°C</text>
<text transform="translate(47.7 429.7) rotate(-90) scale(1 1)" x="0" y="0" font-family="'Liberation Serif','Times New Roman',serif" font-size="37.5">BB (µmol C L</text>
<text transform="translate(29.2 210) rotate(-90) scale(1 1)" x="0" y="0" font-family="'Liberation Serif','Times New Roman',serif" font-size="25">-1</text>
<text transform="translate(47.7 190) rotate(-90) scale(1 1)" x="0" y="0" font-family="'Liberation Serif','Times New Roman',serif" font-size="37.5">)</text>
<text transform="translate(48 1088.4) rotate(-90) scale(1 1)" x="0" y="0" font-family="'Liberation Serif','Times New Roman',serif" font-size="37.5">BP (µmol C L</text>
<text transform="translate(29.7 876) rotate(-90) scale(1 1)" x="0" y="0" font-family="'Liberation Serif','Times New Roman',serif" font-size="25">-1</text>
<text transform="translate(48 846.5) rotate(-90) scale(1 1)" x="0" y="0" font-family="'Liberation Serif','Times New Roman',serif" font-size="37.5">day</text>
<text transform="translate(29.2 793.5) rotate(-90) scale(1 1)" x="0" y="0" font-family="'Liberation Serif','Times New Roman',serif" font-size="37">-1</text>
<text transform="translate(48 763.5) rotate(-90) scale(1 1)" x="0" y="0" font-family="'Liberation Serif','Times New Roman',serif" font-size="37.5">)</text>
<text transform="translate(64.6 1724.3) rotate(-90) scale(1 1)" x="0" y="0" font-family="'Liberation Serif','Times New Roman',serif" font-size="37.5">Cell BP (fmol C cell</text>
<text transform="translate(46.3 1419.5) rotate(-90) scale(1 1)" x="0" y="0" font-family="'Liberation Serif','Times New Roman',serif" font-size="37">-1</text>
<text transform="translate(64.6 1370) rotate(-90) scale(1 1)" x="0" y="0" font-family="'Liberation Serif','Times New Roman',serif" font-size="37.5">day</text>
<text transform="translate(46.3 1316) rotate(-90) scale(1 1)" x="0" y="0" font-family="'Liberation Serif','Times New Roman',serif" font-size="37">-1</text>
<text transform="translate(64.6 1287.8) rotate(-90) scale(1 1)" x="0" y="0" font-family="'Liberation Serif','Times New Roman',serif" font-size="37.5">)</text>
</svg>
</body></html>
